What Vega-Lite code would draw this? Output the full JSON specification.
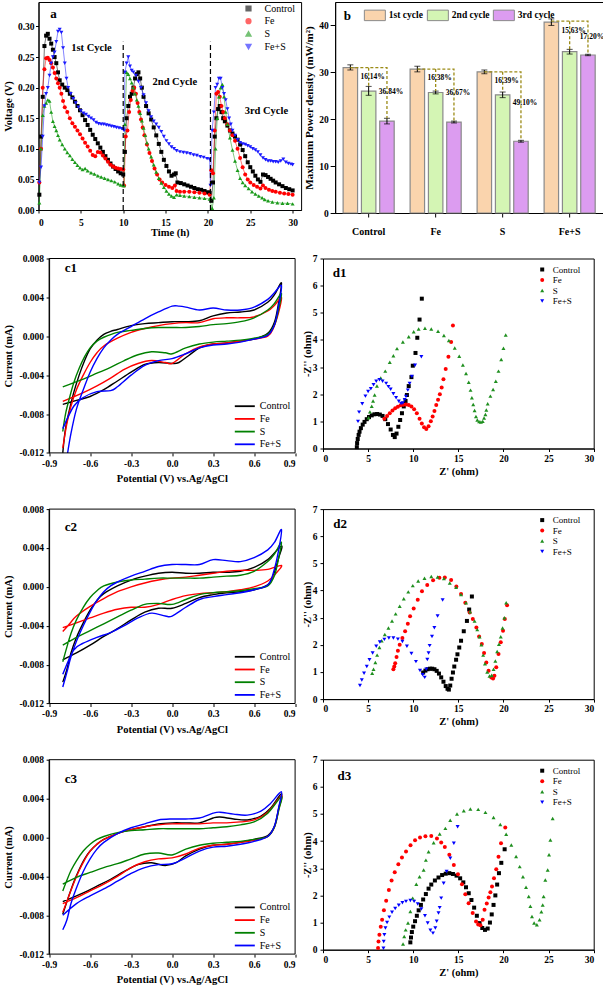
{
"$schema":"https://vega.github.io/schema/vega-lite/v6.json",
"background":"white",
"padding":{"left":2.5,"top":1,"right":2,"bottom":2},
"config":{
"view":{"stroke":"black","strokeWidth":1},
"axis":{"grid":false,"domainColor":"black","domainWidth":1,"tickColor":"black","tickWidth":1,"tickSize":3,"labelColor":"black","titleColor":"black","labelFont":"Liberation Serif","titleFont":"Liberation Serif","labelFontWeight":"bold","titleFontWeight":"bold","labelFontSize":9.5,"titleFontSize":10.5,"labelOverlap":false},
"legend":{"labelFont":"Liberation Serif","labelColor":"black","titleFont":"Liberation Serif","padding":0,"offset":0},
"text":{"font":"Liberation Serif","fontWeight":"bold","color":"black"}
},
"datasets":{
"ts":[
{"s":"Control","t":0.1,"v":0.025},{"s":"Control","t":0.3,"v":0.12},{"s":"Control","t":0.5,"v":0.185},{"s":"Control","t":0.7,"v":0.268},{"s":"Control","t":0.9,"v":0.285},{"s":"Control","t":1.1,"v":0.288},{"s":"Control","t":1.3,"v":0.28},{"s":"Control","t":1.5,"v":0.272},{"s":"Control","t":1.7,"v":0.262},{"s":"Control","t":1.9,"v":0.25},{"s":"Control","t":2.1,"v":0.24},{"s":"Control","t":2.3,"v":0.225},{"s":"Control","t":2.5,"v":0.212},{"s":"Control","t":2.8,"v":0.205},{"s":"Control","t":3.1,"v":0.2},{"s":"Control","t":3.4,"v":0.196},{"s":"Control","t":3.7,"v":0.19},{"s":"Control","t":4.0,"v":0.184},{"s":"Control","t":4.3,"v":0.177},{"s":"Control","t":4.6,"v":0.17},{"s":"Control","t":4.9,"v":0.163},{"s":"Control","t":5.2,"v":0.155},{"s":"Control","t":5.5,"v":0.147},{"s":"Control","t":5.8,"v":0.139},{"s":"Control","t":6.1,"v":0.131},{"s":"Control","t":6.4,"v":0.123},{"s":"Control","t":6.7,"v":0.116},{"s":"Control","t":7.0,"v":0.109},{"s":"Control","t":7.3,"v":0.102},{"s":"Control","t":7.6,"v":0.095},{"s":"Control","t":7.9,"v":0.088},{"s":"Control","t":8.2,"v":0.082},{"s":"Control","t":8.5,"v":0.076},{"s":"Control","t":8.8,"v":0.071},{"s":"Control","t":9.1,"v":0.067},{"s":"Control","t":9.4,"v":0.063},{"s":"Control","t":9.7,"v":0.06},{"s":"Control","t":10.0,"v":0.058},
{"s":"Control","t":10.2,"v":0.095},{"s":"Control","t":10.4,"v":0.15},{"s":"Control","t":10.6,"v":0.17},{"s":"Control","t":10.8,"v":0.185},{"s":"Control","t":11.0,"v":0.19},{"s":"Control","t":11.2,"v":0.2},{"s":"Control","t":11.4,"v":0.215},{"s":"Control","t":11.6,"v":0.222},{"s":"Control","t":11.8,"v":0.225},{"s":"Control","t":12.0,"v":0.215},{"s":"Control","t":12.2,"v":0.2},{"s":"Control","t":12.4,"v":0.185},{"s":"Control","t":12.7,"v":0.17},{"s":"Control","t":13.0,"v":0.158},{"s":"Control","t":13.3,"v":0.148},{"s":"Control","t":13.6,"v":0.135},{"s":"Control","t":13.9,"v":0.122},{"s":"Control","t":14.2,"v":0.108},{"s":"Control","t":14.5,"v":0.095},{"s":"Control","t":14.8,"v":0.082},{"s":"Control","t":15.1,"v":0.072},{"s":"Control","t":15.4,"v":0.063},{"s":"Control","t":15.7,"v":0.056},{"s":"Control","t":16.0,"v":0.058},{"s":"Control","t":16.2,"v":0.06},{"s":"Control","t":16.4,"v":0.045},{"s":"Control","t":16.8,"v":0.044},{"s":"Control","t":17.2,"v":0.042},{"s":"Control","t":17.6,"v":0.04},{"s":"Control","t":18.0,"v":0.038},{"s":"Control","t":18.4,"v":0.036},{"s":"Control","t":18.8,"v":0.034},{"s":"Control","t":19.2,"v":0.033},{"s":"Control","t":19.6,"v":0.031},{"s":"Control","t":20.0,"v":0.029},{"s":"Control","t":20.2,"v":0.028},
{"s":"Control","t":20.4,"v":0.015},{"s":"Control","t":20.6,"v":0.045},{"s":"Control","t":20.8,"v":0.12},{"s":"Control","t":21.0,"v":0.15},{"s":"Control","t":21.2,"v":0.165},{"s":"Control","t":21.4,"v":0.17},{"s":"Control","t":21.6,"v":0.16},{"s":"Control","t":21.8,"v":0.15},{"s":"Control","t":22.0,"v":0.145},{"s":"Control","t":22.3,"v":0.138},{"s":"Control","t":22.6,"v":0.13},{"s":"Control","t":22.9,"v":0.125},{"s":"Control","t":23.2,"v":0.12},{"s":"Control","t":23.5,"v":0.115},{"s":"Control","t":23.8,"v":0.107},{"s":"Control","t":24.1,"v":0.098},{"s":"Control","t":24.4,"v":0.088},{"s":"Control","t":24.7,"v":0.078},{"s":"Control","t":25.0,"v":0.07},{"s":"Control","t":25.3,"v":0.063},{"s":"Control","t":25.6,"v":0.056},{"s":"Control","t":25.9,"v":0.05},{"s":"Control","t":26.2,"v":0.046},{"s":"Control","t":26.5,"v":0.058},{"s":"Control","t":26.8,"v":0.057},{"s":"Control","t":27.1,"v":0.054},{"s":"Control","t":27.4,"v":0.051},{"s":"Control","t":27.7,"v":0.048},{"s":"Control","t":28.0,"v":0.045},{"s":"Control","t":28.4,"v":0.042},{"s":"Control","t":28.8,"v":0.039},{"s":"Control","t":29.2,"v":0.036},{"s":"Control","t":29.6,"v":0.034},{"s":"Control","t":30.0,"v":0.032},
{"s":"Fe","t":0.1,"v":0.045},{"s":"Fe","t":0.3,"v":0.1},{"s":"Fe","t":0.5,"v":0.2},{"s":"Fe","t":0.7,"v":0.23},{"s":"Fe","t":0.9,"v":0.248},{"s":"Fe","t":1.1,"v":0.249},{"s":"Fe","t":1.3,"v":0.245},{"s":"Fe","t":1.5,"v":0.24},{"s":"Fe","t":1.7,"v":0.233},{"s":"Fe","t":1.9,"v":0.224},{"s":"Fe","t":2.1,"v":0.215},{"s":"Fe","t":2.3,"v":0.207},{"s":"Fe","t":2.5,"v":0.2},{"s":"Fe","t":2.7,"v":0.19},{"s":"Fe","t":2.9,"v":0.178},{"s":"Fe","t":3.1,"v":0.168},{"s":"Fe","t":3.4,"v":0.16},{"s":"Fe","t":3.7,"v":0.15},{"s":"Fe","t":4.0,"v":0.142},{"s":"Fe","t":4.3,"v":0.136},{"s":"Fe","t":4.6,"v":0.13},{"s":"Fe","t":4.9,"v":0.124},{"s":"Fe","t":5.2,"v":0.117},{"s":"Fe","t":5.5,"v":0.11},{"s":"Fe","t":5.8,"v":0.104},{"s":"Fe","t":6.1,"v":0.097},{"s":"Fe","t":6.4,"v":0.09},{"s":"Fe","t":6.7,"v":0.088},{"s":"Fe","t":7.0,"v":0.095},{"s":"Fe","t":7.3,"v":0.094},{"s":"Fe","t":7.6,"v":0.089},{"s":"Fe","t":7.9,"v":0.084},{"s":"Fe","t":8.2,"v":0.079},{"s":"Fe","t":8.5,"v":0.074},{"s":"Fe","t":8.8,"v":0.071},{"s":"Fe","t":9.1,"v":0.069},{"s":"Fe","t":9.4,"v":0.068},{"s":"Fe","t":9.7,"v":0.067},{"s":"Fe","t":10.0,"v":0.066},
{"s":"Fe","t":10.1,"v":0.04},{"s":"Fe","t":10.3,"v":0.12},{"s":"Fe","t":10.5,"v":0.13},{"s":"Fe","t":10.7,"v":0.16},{"s":"Fe","t":10.9,"v":0.18},{"s":"Fe","t":11.1,"v":0.195},{"s":"Fe","t":11.3,"v":0.2},{"s":"Fe","t":11.5,"v":0.19},{"s":"Fe","t":11.7,"v":0.175},{"s":"Fe","t":11.9,"v":0.16},{"s":"Fe","t":12.1,"v":0.148},{"s":"Fe","t":12.3,"v":0.135},{"s":"Fe","t":12.5,"v":0.122},{"s":"Fe","t":12.8,"v":0.107},{"s":"Fe","t":13.1,"v":0.093},{"s":"Fe","t":13.4,"v":0.08},{"s":"Fe","t":13.7,"v":0.068},{"s":"Fe","t":14.0,"v":0.058},{"s":"Fe","t":14.3,"v":0.05},{"s":"Fe","t":14.6,"v":0.045},{"s":"Fe","t":15.0,"v":0.041},{"s":"Fe","t":15.4,"v":0.038},{"s":"Fe","t":15.8,"v":0.036},{"s":"Fe","t":16.1,"v":0.04},{"s":"Fe","t":16.3,"v":0.031},{"s":"Fe","t":16.7,"v":0.03},{"s":"Fe","t":17.2,"v":0.03},{"s":"Fe","t":17.8,"v":0.03},{"s":"Fe","t":18.4,"v":0.029},{"s":"Fe","t":19.0,"v":0.028},{"s":"Fe","t":19.6,"v":0.027},{"s":"Fe","t":20.2,"v":0.025},
{"s":"Fe","t":20.4,"v":0.065},{"s":"Fe","t":20.6,"v":0.06},{"s":"Fe","t":20.8,"v":0.13},{"s":"Fe","t":21.0,"v":0.19},{"s":"Fe","t":21.2,"v":0.193},{"s":"Fe","t":21.4,"v":0.185},{"s":"Fe","t":21.6,"v":0.17},{"s":"Fe","t":21.8,"v":0.16},{"s":"Fe","t":22.0,"v":0.15},{"s":"Fe","t":22.3,"v":0.14},{"s":"Fe","t":22.6,"v":0.13},{"s":"Fe","t":22.9,"v":0.122},{"s":"Fe","t":23.2,"v":0.113},{"s":"Fe","t":23.5,"v":0.1},{"s":"Fe","t":23.8,"v":0.085},{"s":"Fe","t":24.1,"v":0.07},{"s":"Fe","t":24.4,"v":0.058},{"s":"Fe","t":24.7,"v":0.05},{"s":"Fe","t":25.0,"v":0.045},{"s":"Fe","t":25.4,"v":0.041},{"s":"Fe","t":25.8,"v":0.038},{"s":"Fe","t":26.2,"v":0.035},{"s":"Fe","t":26.5,"v":0.04},{"s":"Fe","t":26.8,"v":0.036},{"s":"Fe","t":27.2,"v":0.033},{"s":"Fe","t":27.6,"v":0.031},{"s":"Fe","t":28.0,"v":0.03},{"s":"Fe","t":28.5,"v":0.028},{"s":"Fe","t":29.0,"v":0.027},{"s":"Fe","t":29.5,"v":0.026},{"s":"Fe","t":30.0,"v":0.025},
{"s":"S","t":0.1,"v":0.012},{"s":"S","t":0.3,"v":0.1},{"s":"S","t":0.5,"v":0.155},{"s":"S","t":0.7,"v":0.17},{"s":"S","t":0.9,"v":0.175},{"s":"S","t":1.1,"v":0.18},{"s":"S","t":1.3,"v":0.178},{"s":"S","t":1.5,"v":0.16},{"s":"S","t":1.7,"v":0.145},{"s":"S","t":1.9,"v":0.137},{"s":"S","t":2.1,"v":0.13},{"s":"S","t":2.3,"v":0.122},{"s":"S","t":2.5,"v":0.115},{"s":"S","t":2.8,"v":0.107},{"s":"S","t":3.1,"v":0.1},{"s":"S","t":3.4,"v":0.094},{"s":"S","t":3.7,"v":0.089},{"s":"S","t":4.0,"v":0.083},{"s":"S","t":4.3,"v":0.078},{"s":"S","t":4.6,"v":0.073},{"s":"S","t":4.9,"v":0.069},{"s":"S","t":5.2,"v":0.066},{"s":"S","t":5.5,"v":0.068},{"s":"S","t":5.8,"v":0.064},{"s":"S","t":6.2,"v":0.061},{"s":"S","t":6.6,"v":0.059},{"s":"S","t":7.0,"v":0.056},{"s":"S","t":7.4,"v":0.054},{"s":"S","t":7.8,"v":0.052},{"s":"S","t":8.2,"v":0.05},{"s":"S","t":8.6,"v":0.048},{"s":"S","t":9.0,"v":0.046},{"s":"S","t":9.4,"v":0.043},{"s":"S","t":9.7,"v":0.041},{"s":"S","t":10.0,"v":0.04},
{"s":"S","t":10.1,"v":0.04},{"s":"S","t":10.2,"v":0.14},{"s":"S","t":10.4,"v":0.225},{"s":"S","t":10.6,"v":0.222},{"s":"S","t":10.8,"v":0.215},{"s":"S","t":11.0,"v":0.208},{"s":"S","t":11.2,"v":0.2},{"s":"S","t":11.4,"v":0.19},{"s":"S","t":11.6,"v":0.18},{"s":"S","t":11.8,"v":0.17},{"s":"S","t":12.0,"v":0.158},{"s":"S","t":12.2,"v":0.146},{"s":"S","t":12.4,"v":0.134},{"s":"S","t":12.6,"v":0.122},{"s":"S","t":12.8,"v":0.11},{"s":"S","t":13.0,"v":0.1},{"s":"S","t":13.3,"v":0.087},{"s":"S","t":13.6,"v":0.074},{"s":"S","t":13.9,"v":0.062},{"s":"S","t":14.2,"v":0.052},{"s":"S","t":14.5,"v":0.044},{"s":"S","t":14.8,"v":0.037},{"s":"S","t":15.1,"v":0.031},{"s":"S","t":15.4,"v":0.026},{"s":"S","t":15.7,"v":0.023},{"s":"S","t":16.0,"v":0.021},{"s":"S","t":16.3,"v":0.025},{"s":"S","t":16.7,"v":0.024},{"s":"S","t":17.2,"v":0.023},{"s":"S","t":17.8,"v":0.022},{"s":"S","t":18.4,"v":0.021},{"s":"S","t":19.0,"v":0.02},{"s":"S","t":19.6,"v":0.019},{"s":"S","t":20.2,"v":0.018},
{"s":"S","t":20.5,"v":0.003},{"s":"S","t":20.7,"v":0.02},{"s":"S","t":20.9,"v":0.1},{"s":"S","t":21.1,"v":0.15},{"s":"S","t":21.3,"v":0.185},{"s":"S","t":21.5,"v":0.2},{"s":"S","t":21.7,"v":0.205},{"s":"S","t":21.9,"v":0.185},{"s":"S","t":22.1,"v":0.16},{"s":"S","t":22.3,"v":0.14},{"s":"S","t":22.6,"v":0.118},{"s":"S","t":22.9,"v":0.098},{"s":"S","t":23.2,"v":0.08},{"s":"S","t":23.5,"v":0.065},{"s":"S","t":23.8,"v":0.052},{"s":"S","t":24.1,"v":0.045},{"s":"S","t":24.4,"v":0.04},{"s":"S","t":24.8,"v":0.035},{"s":"S","t":25.2,"v":0.03},{"s":"S","t":25.6,"v":0.026},{"s":"S","t":26.0,"v":0.023},{"s":"S","t":26.4,"v":0.02},{"s":"S","t":26.7,"v":0.017},{"s":"S","t":27.1,"v":0.015},{"s":"S","t":27.6,"v":0.013},{"s":"S","t":28.2,"v":0.012},{"s":"S","t":28.8,"v":0.011},{"s":"S","t":29.4,"v":0.011},{"s":"S","t":30.0,"v":0.01},
{"s":"Fe+S","t":0.1,"v":0.045},{"s":"Fe+S","t":0.3,"v":0.07},{"s":"Fe+S","t":0.5,"v":0.12},{"s":"Fe+S","t":0.7,"v":0.17},{"s":"Fe+S","t":0.9,"v":0.19},{"s":"Fe+S","t":1.1,"v":0.2},{"s":"Fe+S","t":1.3,"v":0.22},{"s":"Fe+S","t":1.5,"v":0.24},{"s":"Fe+S","t":1.7,"v":0.25},{"s":"Fe+S","t":1.9,"v":0.258},{"s":"Fe+S","t":2.1,"v":0.275},{"s":"Fe+S","t":2.3,"v":0.292},{"s":"Fe+S","t":2.5,"v":0.295},{"s":"Fe+S","t":2.7,"v":0.29},{"s":"Fe+S","t":2.9,"v":0.265},{"s":"Fe+S","t":3.1,"v":0.24},{"s":"Fe+S","t":3.3,"v":0.215},{"s":"Fe+S","t":3.5,"v":0.2},{"s":"Fe+S","t":3.8,"v":0.19},{"s":"Fe+S","t":4.1,"v":0.182},{"s":"Fe+S","t":4.4,"v":0.175},{"s":"Fe+S","t":4.7,"v":0.168},{"s":"Fe+S","t":5.0,"v":0.162},{"s":"Fe+S","t":5.3,"v":0.158},{"s":"Fe+S","t":5.6,"v":0.156},{"s":"Fe+S","t":5.9,"v":0.153},{"s":"Fe+S","t":6.2,"v":0.15},{"s":"Fe+S","t":6.5,"v":0.147},{"s":"Fe+S","t":6.8,"v":0.143},{"s":"Fe+S","t":7.1,"v":0.141},{"s":"Fe+S","t":7.4,"v":0.14},{"s":"Fe+S","t":7.7,"v":0.14},{"s":"Fe+S","t":8.0,"v":0.139},{"s":"Fe+S","t":8.3,"v":0.138},{"s":"Fe+S","t":8.6,"v":0.137},{"s":"Fe+S","t":8.9,"v":0.136},{"s":"Fe+S","t":9.2,"v":0.135},{"s":"Fe+S","t":9.5,"v":0.134},{"s":"Fe+S","t":9.8,"v":0.133},{"s":"Fe+S","t":10.0,"v":0.132},
{"s":"Fe+S","t":10.1,"v":0.13},{"s":"Fe+S","t":10.2,"v":0.225},{"s":"Fe+S","t":10.4,"v":0.24},{"s":"Fe+S","t":10.6,"v":0.25},{"s":"Fe+S","t":10.8,"v":0.235},{"s":"Fe+S","t":11.0,"v":0.228},{"s":"Fe+S","t":11.2,"v":0.225},{"s":"Fe+S","t":11.5,"v":0.22},{"s":"Fe+S","t":11.8,"v":0.21},{"s":"Fe+S","t":12.1,"v":0.2},{"s":"Fe+S","t":12.4,"v":0.188},{"s":"Fe+S","t":12.7,"v":0.175},{"s":"Fe+S","t":13.0,"v":0.162},{"s":"Fe+S","t":13.3,"v":0.152},{"s":"Fe+S","t":13.6,"v":0.145},{"s":"Fe+S","t":13.9,"v":0.14},{"s":"Fe+S","t":14.2,"v":0.135},{"s":"Fe+S","t":14.5,"v":0.128},{"s":"Fe+S","t":14.8,"v":0.12},{"s":"Fe+S","t":15.1,"v":0.113},{"s":"Fe+S","t":15.4,"v":0.108},{"s":"Fe+S","t":15.7,"v":0.103},{"s":"Fe+S","t":16.0,"v":0.1},{"s":"Fe+S","t":16.3,"v":0.097},{"s":"Fe+S","t":16.7,"v":0.095},{"s":"Fe+S","t":17.1,"v":0.094},{"s":"Fe+S","t":17.5,"v":0.093},{"s":"Fe+S","t":17.9,"v":0.092},{"s":"Fe+S","t":18.3,"v":0.09},{"s":"Fe+S","t":18.7,"v":0.089},{"s":"Fe+S","t":19.1,"v":0.087},{"s":"Fe+S","t":19.5,"v":0.086},{"s":"Fe+S","t":19.9,"v":0.084},{"s":"Fe+S","t":20.2,"v":0.083},
{"s":"Fe+S","t":20.3,"v":0.04},{"s":"Fe+S","t":20.5,"v":0.13},{"s":"Fe+S","t":20.7,"v":0.16},{"s":"Fe+S","t":20.9,"v":0.2},{"s":"Fe+S","t":21.1,"v":0.205},{"s":"Fe+S","t":21.3,"v":0.215},{"s":"Fe+S","t":21.5,"v":0.215},{"s":"Fe+S","t":21.7,"v":0.2},{"s":"Fe+S","t":21.9,"v":0.19},{"s":"Fe+S","t":22.1,"v":0.18},{"s":"Fe+S","t":22.3,"v":0.165},{"s":"Fe+S","t":22.5,"v":0.15},{"s":"Fe+S","t":22.7,"v":0.14},{"s":"Fe+S","t":22.9,"v":0.13},{"s":"Fe+S","t":23.2,"v":0.122},{"s":"Fe+S","t":23.5,"v":0.115},{"s":"Fe+S","t":23.8,"v":0.11},{"s":"Fe+S","t":24.1,"v":0.108},{"s":"Fe+S","t":24.4,"v":0.107},{"s":"Fe+S","t":24.7,"v":0.105},{"s":"Fe+S","t":25.0,"v":0.103},{"s":"Fe+S","t":25.3,"v":0.1},{"s":"Fe+S","t":25.6,"v":0.098},{"s":"Fe+S","t":25.9,"v":0.095},{"s":"Fe+S","t":26.2,"v":0.09},{"s":"Fe+S","t":26.5,"v":0.085},{"s":"Fe+S","t":26.8,"v":0.082},{"s":"Fe+S","t":27.1,"v":0.08},{"s":"Fe+S","t":27.4,"v":0.08},{"s":"Fe+S","t":27.7,"v":0.079},{"s":"Fe+S","t":28.0,"v":0.079},{"s":"Fe+S","t":28.3,"v":0.078},{"s":"Fe+S","t":28.6,"v":0.08},{"s":"Fe+S","t":28.9,"v":0.083},{"s":"Fe+S","t":29.2,"v":0.078},{"s":"Fe+S","t":29.5,"v":0.076},{"s":"Fe+S","t":29.8,"v":0.075},{"s":"Fe+S","t":30.0,"v":0.074}
],
"bars":[
{"g":"Control","c":"1st cycle","m":31.0,"lo":30.5,"hi":31.6},{"g":"Control","c":"2nd cycle","m":26.0,"lo":25.1,"hi":27.0},{"g":"Control","c":"3rd cycle","m":19.6,"lo":19.0,"hi":20.2},
{"g":"Fe","c":"1st cycle","m":30.7,"lo":30.1,"hi":31.3},{"g":"Fe","c":"2nd cycle","m":25.7,"lo":25.4,"hi":26.0},{"g":"Fe","c":"3rd cycle","m":19.4,"lo":19.2,"hi":19.6},
{"g":"S","c":"1st cycle","m":30.1,"lo":29.7,"hi":30.5},{"g":"S","c":"2nd cycle","m":25.2,"lo":24.6,"hi":25.8},{"g":"S","c":"3rd cycle","m":15.3,"lo":15.1,"hi":15.5},
{"g":"Fe+S","c":"1st cycle","m":40.7,"lo":40.0,"hi":41.4},{"g":"Fe+S","c":"2nd cycle","m":34.4,"lo":33.9,"hi":34.9},{"g":"Fe+S","c":"3rd cycle","m":33.7,"lo":33.55,"hi":33.85}
],
"dash":[
{"g":"Control","c":"1st cycle","y":31.0,"k":"C1","o":1},{"g":"Control","c":"3rd cycle","y":31.0,"k":"C1","o":2},{"g":"Control","c":"3rd cycle","y":20.2,"k":"C1","o":3},{"g":"Control","c":"2nd cycle","y":31.0,"k":"C2","o":1},{"g":"Control","c":"2nd cycle","y":27.0,"k":"C2","o":2},
{"g":"Fe","c":"1st cycle","y":30.7,"k":"F1","o":1},{"g":"Fe","c":"3rd cycle","y":30.7,"k":"F1","o":2},{"g":"Fe","c":"3rd cycle","y":19.6,"k":"F1","o":3},{"g":"Fe","c":"2nd cycle","y":30.7,"k":"F2","o":1},{"g":"Fe","c":"2nd cycle","y":26.0,"k":"F2","o":2},
{"g":"S","c":"1st cycle","y":30.1,"k":"S1","o":1},{"g":"S","c":"3rd cycle","y":30.1,"k":"S1","o":2},{"g":"S","c":"3rd cycle","y":15.5,"k":"S1","o":3},{"g":"S","c":"2nd cycle","y":30.1,"k":"S2","o":1},{"g":"S","c":"2nd cycle","y":25.8,"k":"S2","o":2},
{"g":"Fe+S","c":"1st cycle","y":40.9,"k":"X1","o":1},{"g":"Fe+S","c":"3rd cycle","y":40.9,"k":"X1","o":2},{"g":"Fe+S","c":"3rd cycle","y":33.85,"k":"X1","o":3},{"g":"Fe+S","c":"2nd cycle","y":40.9,"k":"X2","o":1},{"g":"Fe+S","c":"2nd cycle","y":34.9,"k":"X2","o":2}
],
"pct":[
{"g":"Control","c":"2nd cycle","y":29.1,"txt":"16.14%"},{"g":"Control","c":"3rd cycle","y":25.75,"txt":"36.84%"},
{"g":"Fe","c":"2nd cycle","y":28.7,"txt":"16.38%"},{"g":"Fe","c":"3rd cycle","y":25.5,"txt":"36.67%"},
{"g":"S","c":"2nd cycle","y":28.2,"txt":"16.39%"},{"g":"S","c":"3rd cycle","y":23.5,"txt":"49.10%"},
{"g":"Fe+S","c":"2nd cycle","y":38.8,"txt":"15.63%"},{"g":"Fe+S","c":"3rd cycle","y":37.6,"txt":"17.20%"}
],
"cv":[
{"p":"c1","s":"Control","v":-0.8,"i":-0.012},{"p":"c1","s":"Control","v":-0.78,"i":-0.0095},{"p":"c1","s":"Control","v":-0.75,"i":-0.0075},{"p":"c1","s":"Control","v":-0.72,"i":-0.0058},{"p":"c1","s":"Control","v":-0.68,"i":-0.004},{"p":"c1","s":"Control","v":-0.64,"i":-0.0025},{"p":"c1","s":"Control","v":-0.6,"i":-0.0013},{"p":"c1","s":"Control","v":-0.55,"i":-0.0004},{"p":"c1","s":"Control","v":-0.5,"i":0.0002},{"p":"c1","s":"Control","v":-0.45,"i":0.0005},{"p":"c1","s":"Control","v":-0.4,"i":0.0007},{"p":"c1","s":"Control","v":-0.3,"i":0.0011},{"p":"c1","s":"Control","v":-0.2,"i":0.0013},{"p":"c1","s":"Control","v":-0.1,"i":0.0014},{"p":"c1","s":"Control","v":0,"i":0.0015},{"p":"c1","s":"Control","v":0.1,"i":0.0015},{"p":"c1","s":"Control","v":0.2,"i":0.0016},{"p":"c1","s":"Control","v":0.3,"i":0.0021},{"p":"c1","s":"Control","v":0.4,"i":0.0024},{"p":"c1","s":"Control","v":0.5,"i":0.0025},{"p":"c1","s":"Control","v":0.6,"i":0.0027},{"p":"c1","s":"Control","v":0.7,"i":0.0035},{"p":"c1","s":"Control","v":0.75,"i":0.0043},{"p":"c1","s":"Control","v":0.8,"i":0.0055},{"p":"c1","s":"Control","v":0.78,"i":0.0035},{"p":"c1","s":"Control","v":0.75,"i":0.0015},{"p":"c1","s":"Control","v":0.7,"i":0.0003},{"p":"c1","s":"Control","v":0.6,"i":-0.0003},{"p":"c1","s":"Control","v":0.5,"i":-0.0005},{"p":"c1","s":"Control","v":0.4,"i":-0.0007},{"p":"c1","s":"Control","v":0.3,"i":-0.0008},{"p":"c1","s":"Control","v":0.2,"i":-0.0012},{"p":"c1","s":"Control","v":0.12,"i":-0.002},{"p":"c1","s":"Control","v":0.05,"i":-0.0027},{"p":"c1","s":"Control","v":0,"i":-0.0028},{"p":"c1","s":"Control","v":-0.1,"i":-0.0027},{"p":"c1","s":"Control","v":-0.2,"i":-0.0029},{"p":"c1","s":"Control","v":-0.3,"i":-0.0037},{"p":"c1","s":"Control","v":-0.4,"i":-0.0046},{"p":"c1","s":"Control","v":-0.5,"i":-0.0055},{"p":"c1","s":"Control","v":-0.6,"i":-0.0062},{"p":"c1","s":"Control","v":-0.7,"i":-0.0066},{"p":"c1","s":"Control","v":-0.8,"i":-0.007},
{"p":"c1","s":"Fe","v":-0.8,"i":-0.0115},{"p":"c1","s":"Fe","v":-0.77,"i":-0.009},{"p":"c1","s":"Fe","v":-0.74,"i":-0.0072},{"p":"c1","s":"Fe","v":-0.7,"i":-0.0055},{"p":"c1","s":"Fe","v":-0.65,"i":-0.004},{"p":"c1","s":"Fe","v":-0.6,"i":-0.0027},{"p":"c1","s":"Fe","v":-0.55,"i":-0.0017},{"p":"c1","s":"Fe","v":-0.5,"i":-0.001},{"p":"c1","s":"Fe","v":-0.4,"i":-0.0002},{"p":"c1","s":"Fe","v":-0.3,"i":0.0004},{"p":"c1","s":"Fe","v":-0.2,"i":0.0008},{"p":"c1","s":"Fe","v":-0.1,"i":0.0011},{"p":"c1","s":"Fe","v":0,"i":0.0013},{"p":"c1","s":"Fe","v":0.1,"i":0.0014},{"p":"c1","s":"Fe","v":0.2,"i":0.0014},{"p":"c1","s":"Fe","v":0.3,"i":0.0018},{"p":"c1","s":"Fe","v":0.4,"i":0.0019},{"p":"c1","s":"Fe","v":0.5,"i":0.0019},{"p":"c1","s":"Fe","v":0.6,"i":0.002},{"p":"c1","s":"Fe","v":0.7,"i":0.0026},{"p":"c1","s":"Fe","v":0.75,"i":0.0032},{"p":"c1","s":"Fe","v":0.8,"i":0.004},{"p":"c1","s":"Fe","v":0.78,"i":0.0025},{"p":"c1","s":"Fe","v":0.74,"i":0.0008},{"p":"c1","s":"Fe","v":0.7,"i":0},{"p":"c1","s":"Fe","v":0.6,"i":-0.0003},{"p":"c1","s":"Fe","v":0.5,"i":-0.0005},{"p":"c1","s":"Fe","v":0.4,"i":-0.0007},{"p":"c1","s":"Fe","v":0.3,"i":-0.0008},{"p":"c1","s":"Fe","v":0.2,"i":-0.0011},{"p":"c1","s":"Fe","v":0.1,"i":-0.0018},{"p":"c1","s":"Fe","v":0,"i":-0.0028},{"p":"c1","s":"Fe","v":-0.05,"i":-0.0027},{"p":"c1","s":"Fe","v":-0.15,"i":-0.0025},{"p":"c1","s":"Fe","v":-0.25,"i":-0.0028},{"p":"c1","s":"Fe","v":-0.35,"i":-0.0034},{"p":"c1","s":"Fe","v":-0.45,"i":-0.0043},{"p":"c1","s":"Fe","v":-0.55,"i":-0.0051},{"p":"c1","s":"Fe","v":-0.65,"i":-0.0058},{"p":"c1","s":"Fe","v":-0.8,"i":-0.0067},
{"p":"c1","s":"S","v":-0.8,"i":-0.0098},{"p":"c1","s":"S","v":-0.78,"i":-0.008},{"p":"c1","s":"S","v":-0.75,"i":-0.0063},{"p":"c1","s":"S","v":-0.72,"i":-0.0048},{"p":"c1","s":"S","v":-0.68,"i":-0.0033},{"p":"c1","s":"S","v":-0.64,"i":-0.0021},{"p":"c1","s":"S","v":-0.6,"i":-0.0012},{"p":"c1","s":"S","v":-0.55,"i":-0.0005},{"p":"c1","s":"S","v":-0.5,"i":-0.0001},{"p":"c1","s":"S","v":-0.4,"i":0.0004},{"p":"c1","s":"S","v":-0.3,"i":0.0006},{"p":"c1","s":"S","v":-0.2,"i":0.0008},{"p":"c1","s":"S","v":-0.1,"i":0.0009},{"p":"c1","s":"S","v":0,"i":0.0009},{"p":"c1","s":"S","v":0.1,"i":0.0009},{"p":"c1","s":"S","v":0.2,"i":0.001},{"p":"c1","s":"S","v":0.3,"i":0.0012},{"p":"c1","s":"S","v":0.4,"i":0.0013},{"p":"c1","s":"S","v":0.5,"i":0.0015},{"p":"c1","s":"S","v":0.6,"i":0.0019},{"p":"c1","s":"S","v":0.7,"i":0.0027},{"p":"c1","s":"S","v":0.75,"i":0.0034},{"p":"c1","s":"S","v":0.8,"i":0.0044},{"p":"c1","s":"S","v":0.78,"i":0.0028},{"p":"c1","s":"S","v":0.75,"i":0.0012},{"p":"c1","s":"S","v":0.7,"i":0.0002},{"p":"c1","s":"S","v":0.6,"i":-0.0002},{"p":"c1","s":"S","v":0.5,"i":-0.0004},{"p":"c1","s":"S","v":0.4,"i":-0.0005},{"p":"c1","s":"S","v":0.3,"i":-0.0006},{"p":"c1","s":"S","v":0.2,"i":-0.0008},{"p":"c1","s":"S","v":0.1,"i":-0.0012},{"p":"c1","s":"S","v":0,"i":-0.0018},{"p":"c1","s":"S","v":-0.05,"i":-0.0017},{"p":"c1","s":"S","v":-0.15,"i":-0.0016},{"p":"c1","s":"S","v":-0.25,"i":-0.0019},{"p":"c1","s":"S","v":-0.35,"i":-0.0025},{"p":"c1","s":"S","v":-0.45,"i":-0.0032},{"p":"c1","s":"S","v":-0.55,"i":-0.0038},{"p":"c1","s":"S","v":-0.65,"i":-0.0044},{"p":"c1","s":"S","v":-0.8,"i":-0.0052},
{"p":"c1","s":"Fe+S","v":-0.77,"i":-0.0125},{"p":"c1","s":"Fe+S","v":-0.74,"i":-0.01},{"p":"c1","s":"Fe+S","v":-0.7,"i":-0.0075},{"p":"c1","s":"Fe+S","v":-0.65,"i":-0.0055},{"p":"c1","s":"Fe+S","v":-0.6,"i":-0.0037},{"p":"c1","s":"Fe+S","v":-0.55,"i":-0.0023},{"p":"c1","s":"Fe+S","v":-0.5,"i":-0.0012},{"p":"c1","s":"Fe+S","v":-0.45,"i":-0.0004},{"p":"c1","s":"Fe+S","v":-0.4,"i":0.0002},{"p":"c1","s":"Fe+S","v":-0.3,"i":0.001},{"p":"c1","s":"Fe+S","v":-0.2,"i":0.0018},{"p":"c1","s":"Fe+S","v":-0.1,"i":0.0025},{"p":"c1","s":"Fe+S","v":0,"i":0.0031},{"p":"c1","s":"Fe+S","v":0.05,"i":0.0031},{"p":"c1","s":"Fe+S","v":0.1,"i":0.003},{"p":"c1","s":"Fe+S","v":0.2,"i":0.0027},{"p":"c1","s":"Fe+S","v":0.3,"i":0.0029},{"p":"c1","s":"Fe+S","v":0.4,"i":0.0027},{"p":"c1","s":"Fe+S","v":0.5,"i":0.0027},{"p":"c1","s":"Fe+S","v":0.6,"i":0.003},{"p":"c1","s":"Fe+S","v":0.7,"i":0.0038},{"p":"c1","s":"Fe+S","v":0.75,"i":0.0045},{"p":"c1","s":"Fe+S","v":0.8,"i":0.0052},{"p":"c1","s":"Fe+S","v":0.78,"i":0.0032},{"p":"c1","s":"Fe+S","v":0.75,"i":0.0012},{"p":"c1","s":"Fe+S","v":0.7,"i":0.0001},{"p":"c1","s":"Fe+S","v":0.6,"i":-0.0003},{"p":"c1","s":"Fe+S","v":0.5,"i":-0.0006},{"p":"c1","s":"Fe+S","v":0.4,"i":-0.0008},{"p":"c1","s":"Fe+S","v":0.3,"i":-0.0009},{"p":"c1","s":"Fe+S","v":0.2,"i":-0.0012},{"p":"c1","s":"Fe+S","v":0.1,"i":-0.0018},{"p":"c1","s":"Fe+S","v":0,"i":-0.0023},{"p":"c1","s":"Fe+S","v":-0.1,"i":-0.0025},{"p":"c1","s":"Fe+S","v":-0.2,"i":-0.003},{"p":"c1","s":"Fe+S","v":-0.3,"i":-0.004},{"p":"c1","s":"Fe+S","v":-0.4,"i":-0.0052},{"p":"c1","s":"Fe+S","v":-0.45,"i":-0.0056},{"p":"c1","s":"Fe+S","v":-0.55,"i":-0.0057},{"p":"c1","s":"Fe+S","v":-0.65,"i":-0.0063},{"p":"c1","s":"Fe+S","v":-0.72,"i":-0.0072},{"p":"c1","s":"Fe+S","v":-0.8,"i":-0.0095},
{"p":"c2","s":"Control","v":-0.8,"i":-0.0098},{"p":"c2","s":"Control","v":-0.77,"i":-0.0085},{"p":"c2","s":"Control","v":-0.74,"i":-0.0068},{"p":"c2","s":"Control","v":-0.7,"i":-0.0052},{"p":"c2","s":"Control","v":-0.65,"i":-0.0037},{"p":"c2","s":"Control","v":-0.6,"i":-0.0024},{"p":"c2","s":"Control","v":-0.55,"i":-0.0014},{"p":"c2","s":"Control","v":-0.5,"i":-0.0007},{"p":"c2","s":"Control","v":-0.4,"i":0.0001},{"p":"c2","s":"Control","v":-0.3,"i":0.0007},{"p":"c2","s":"Control","v":-0.2,"i":0.0011},{"p":"c2","s":"Control","v":-0.1,"i":0.0014},{"p":"c2","s":"Control","v":0,"i":0.0015},{"p":"c2","s":"Control","v":0.1,"i":0.0014},{"p":"c2","s":"Control","v":0.2,"i":0.0014},{"p":"c2","s":"Control","v":0.3,"i":0.0015},{"p":"c2","s":"Control","v":0.4,"i":0.0015},{"p":"c2","s":"Control","v":0.5,"i":0.0016},{"p":"c2","s":"Control","v":0.6,"i":0.002},{"p":"c2","s":"Control","v":0.7,"i":0.0028},{"p":"c2","s":"Control","v":0.8,"i":0.0042},{"p":"c2","s":"Control","v":0.78,"i":0.003},{"p":"c2","s":"Control","v":0.74,"i":0.0012},{"p":"c2","s":"Control","v":0.7,"i":0.0002},{"p":"c2","s":"Control","v":0.6,"i":-0.0003},{"p":"c2","s":"Control","v":0.5,"i":-0.0005},{"p":"c2","s":"Control","v":0.4,"i":-0.0006},{"p":"c2","s":"Control","v":0.3,"i":-0.0008},{"p":"c2","s":"Control","v":0.2,"i":-0.0011},{"p":"c2","s":"Control","v":0.1,"i":-0.0017},{"p":"c2","s":"Control","v":0,"i":-0.0022},{"p":"c2","s":"Control","v":-0.1,"i":-0.0022},{"p":"c2","s":"Control","v":-0.2,"i":-0.0026},{"p":"c2","s":"Control","v":-0.3,"i":-0.0034},{"p":"c2","s":"Control","v":-0.4,"i":-0.0043},{"p":"c2","s":"Control","v":-0.5,"i":-0.0051},{"p":"c2","s":"Control","v":-0.6,"i":-0.006},{"p":"c2","s":"Control","v":-0.7,"i":-0.0068},{"p":"c2","s":"Control","v":-0.8,"i":-0.0075},
{"p":"c2","s":"Fe","v":-0.8,"i":-0.0046},{"p":"c2","s":"Fe","v":-0.75,"i":-0.0038},{"p":"c2","s":"Fe","v":-0.7,"i":-0.003},{"p":"c2","s":"Fe","v":-0.6,"i":-0.002},{"p":"c2","s":"Fe","v":-0.5,"i":-0.0012},{"p":"c2","s":"Fe","v":-0.4,"i":-0.0005},{"p":"c2","s":"Fe","v":-0.3,"i":0},{"p":"c2","s":"Fe","v":-0.2,"i":0.0004},{"p":"c2","s":"Fe","v":-0.1,"i":0.0007},{"p":"c2","s":"Fe","v":0,"i":0.0009},{"p":"c2","s":"Fe","v":0.1,"i":0.001},{"p":"c2","s":"Fe","v":0.2,"i":0.0012},{"p":"c2","s":"Fe","v":0.3,"i":0.0014},{"p":"c2","s":"Fe","v":0.4,"i":0.0016},{"p":"c2","s":"Fe","v":0.5,"i":0.0017},{"p":"c2","s":"Fe","v":0.6,"i":0.0017},{"p":"c2","s":"Fe","v":0.7,"i":0.0018},{"p":"c2","s":"Fe","v":0.8,"i":0.0022},{"p":"c2","s":"Fe","v":0.76,"i":0.0014},{"p":"c2","s":"Fe","v":0.7,"i":0.0006},{"p":"c2","s":"Fe","v":0.6,"i":0},{"p":"c2","s":"Fe","v":0.5,"i":-0.0003},{"p":"c2","s":"Fe","v":0.4,"i":-0.0005},{"p":"c2","s":"Fe","v":0.3,"i":-0.0006},{"p":"c2","s":"Fe","v":0.2,"i":-0.0007},{"p":"c2","s":"Fe","v":0.1,"i":-0.0009},{"p":"c2","s":"Fe","v":0,"i":-0.0013},{"p":"c2","s":"Fe","v":-0.1,"i":-0.0018},{"p":"c2","s":"Fe","v":-0.2,"i":-0.0021},{"p":"c2","s":"Fe","v":-0.3,"i":-0.0021},{"p":"c2","s":"Fe","v":-0.4,"i":-0.0023},{"p":"c2","s":"Fe","v":-0.5,"i":-0.0027},{"p":"c2","s":"Fe","v":-0.6,"i":-0.0032},{"p":"c2","s":"Fe","v":-0.7,"i":-0.0037},{"p":"c2","s":"Fe","v":-0.8,"i":-0.0042},
{"p":"c2","s":"S","v":-0.8,"i":-0.0077},{"p":"c2","s":"S","v":-0.77,"i":-0.0062},{"p":"c2","s":"S","v":-0.74,"i":-0.0048},{"p":"c2","s":"S","v":-0.7,"i":-0.0034},{"p":"c2","s":"S","v":-0.65,"i":-0.0021},{"p":"c2","s":"S","v":-0.6,"i":-0.0011},{"p":"c2","s":"S","v":-0.55,"i":-0.0004},{"p":"c2","s":"S","v":-0.5,"i":0.0001},{"p":"c2","s":"S","v":-0.4,"i":0.0005},{"p":"c2","s":"S","v":-0.3,"i":0.0007},{"p":"c2","s":"S","v":-0.2,"i":0.0008},{"p":"c2","s":"S","v":-0.1,"i":0.0009},{"p":"c2","s":"S","v":0,"i":0.0009},{"p":"c2","s":"S","v":0.1,"i":0.0009},{"p":"c2","s":"S","v":0.2,"i":0.0009},{"p":"c2","s":"S","v":0.3,"i":0.001},{"p":"c2","s":"S","v":0.4,"i":0.0011},{"p":"c2","s":"S","v":0.5,"i":0.0012},{"p":"c2","s":"S","v":0.6,"i":0.0016},{"p":"c2","s":"S","v":0.7,"i":0.0026},{"p":"c2","s":"S","v":0.75,"i":0.0034},{"p":"c2","s":"S","v":0.8,"i":0.0046},{"p":"c2","s":"S","v":0.78,"i":0.003},{"p":"c2","s":"S","v":0.75,"i":0.0012},{"p":"c2","s":"S","v":0.7,"i":0.0001},{"p":"c2","s":"S","v":0.6,"i":-0.0002},{"p":"c2","s":"S","v":0.5,"i":-0.0004},{"p":"c2","s":"S","v":0.4,"i":-0.0005},{"p":"c2","s":"S","v":0.3,"i":-0.0006},{"p":"c2","s":"S","v":0.2,"i":-0.0008},{"p":"c2","s":"S","v":0.1,"i":-0.0013},{"p":"c2","s":"S","v":0,"i":-0.0018},{"p":"c2","s":"S","v":-0.1,"i":-0.0017},{"p":"c2","s":"S","v":-0.2,"i":-0.0018},{"p":"c2","s":"S","v":-0.3,"i":-0.0024},{"p":"c2","s":"S","v":-0.4,"i":-0.0031},{"p":"c2","s":"S","v":-0.5,"i":-0.0038},{"p":"c2","s":"S","v":-0.6,"i":-0.0045},{"p":"c2","s":"S","v":-0.7,"i":-0.0052},{"p":"c2","s":"S","v":-0.8,"i":-0.006},
{"p":"c2","s":"Fe+S","v":-0.8,"i":-0.0103},{"p":"c2","s":"Fe+S","v":-0.77,"i":-0.0088},{"p":"c2","s":"Fe+S","v":-0.74,"i":-0.0072},{"p":"c2","s":"Fe+S","v":-0.7,"i":-0.0056},{"p":"c2","s":"Fe+S","v":-0.65,"i":-0.004},{"p":"c2","s":"Fe+S","v":-0.6,"i":-0.0026},{"p":"c2","s":"Fe+S","v":-0.55,"i":-0.0014},{"p":"c2","s":"Fe+S","v":-0.5,"i":-0.0005},{"p":"c2","s":"Fe+S","v":-0.45,"i":0.0001},{"p":"c2","s":"Fe+S","v":-0.4,"i":0.0005},{"p":"c2","s":"Fe+S","v":-0.3,"i":0.0011},{"p":"c2","s":"Fe+S","v":-0.2,"i":0.0016},{"p":"c2","s":"Fe+S","v":-0.1,"i":0.0021},{"p":"c2","s":"Fe+S","v":0,"i":0.0023},{"p":"c2","s":"Fe+S","v":0.1,"i":0.0023},{"p":"c2","s":"Fe+S","v":0.2,"i":0.0023},{"p":"c2","s":"Fe+S","v":0.3,"i":0.0028},{"p":"c2","s":"Fe+S","v":0.4,"i":0.0027},{"p":"c2","s":"Fe+S","v":0.5,"i":0.0026},{"p":"c2","s":"Fe+S","v":0.6,"i":0.003},{"p":"c2","s":"Fe+S","v":0.7,"i":0.0038},{"p":"c2","s":"Fe+S","v":0.75,"i":0.0046},{"p":"c2","s":"Fe+S","v":0.8,"i":0.0059},{"p":"c2","s":"Fe+S","v":0.78,"i":0.0038},{"p":"c2","s":"Fe+S","v":0.74,"i":0.0014},{"p":"c2","s":"Fe+S","v":0.7,"i":0.0002},{"p":"c2","s":"Fe+S","v":0.6,"i":-0.0003},{"p":"c2","s":"Fe+S","v":0.5,"i":-0.0006},{"p":"c2","s":"Fe+S","v":0.4,"i":-0.0008},{"p":"c2","s":"Fe+S","v":0.3,"i":-0.001},{"p":"c2","s":"Fe+S","v":0.2,"i":-0.0013},{"p":"c2","s":"Fe+S","v":0.1,"i":-0.0021},{"p":"c2","s":"Fe+S","v":0,"i":-0.003},{"p":"c2","s":"Fe+S","v":-0.05,"i":-0.003},{"p":"c2","s":"Fe+S","v":-0.15,"i":-0.0027},{"p":"c2","s":"Fe+S","v":-0.25,"i":-0.0032},{"p":"c2","s":"Fe+S","v":-0.35,"i":-0.004},{"p":"c2","s":"Fe+S","v":-0.45,"i":-0.0047},{"p":"c2","s":"Fe+S","v":-0.55,"i":-0.0052},{"p":"c2","s":"Fe+S","v":-0.65,"i":-0.0058},{"p":"c2","s":"Fe+S","v":-0.72,"i":-0.0065},{"p":"c2","s":"Fe+S","v":-0.8,"i":-0.009},
{"p":"c3","s":"Control","v":-0.8,"i":-0.0079},{"p":"c3","s":"Control","v":-0.76,"i":-0.0062},{"p":"c3","s":"Control","v":-0.72,"i":-0.0046},{"p":"c3","s":"Control","v":-0.68,"i":-0.0033},{"p":"c3","s":"Control","v":-0.64,"i":-0.0022},{"p":"c3","s":"Control","v":-0.6,"i":-0.0014},{"p":"c3","s":"Control","v":-0.55,"i":-0.0007},{"p":"c3","s":"Control","v":-0.5,"i":-0.0002},{"p":"c3","s":"Control","v":-0.4,"i":0.0004},{"p":"c3","s":"Control","v":-0.3,"i":0.0008},{"p":"c3","s":"Control","v":-0.2,"i":0.0011},{"p":"c3","s":"Control","v":-0.1,"i":0.0014},{"p":"c3","s":"Control","v":0,"i":0.0015},{"p":"c3","s":"Control","v":0.1,"i":0.0015},{"p":"c3","s":"Control","v":0.2,"i":0.0015},{"p":"c3","s":"Control","v":0.3,"i":0.002},{"p":"c3","s":"Control","v":0.35,"i":0.0021},{"p":"c3","s":"Control","v":0.45,"i":0.0019},{"p":"c3","s":"Control","v":0.55,"i":0.0018},{"p":"c3","s":"Control","v":0.65,"i":0.0022},{"p":"c3","s":"Control","v":0.72,"i":0.003},{"p":"c3","s":"Control","v":0.8,"i":0.0045},{"p":"c3","s":"Control","v":0.78,"i":0.003},{"p":"c3","s":"Control","v":0.75,"i":0.0012},{"p":"c3","s":"Control","v":0.7,"i":0.0002},{"p":"c3","s":"Control","v":0.6,"i":-0.0002},{"p":"c3","s":"Control","v":0.5,"i":-0.0005},{"p":"c3","s":"Control","v":0.4,"i":-0.0007},{"p":"c3","s":"Control","v":0.3,"i":-0.0008},{"p":"c3","s":"Control","v":0.2,"i":-0.0012},{"p":"c3","s":"Control","v":0.1,"i":-0.0019},{"p":"c3","s":"Control","v":0.03,"i":-0.0026},{"p":"c3","s":"Control","v":-0.05,"i":-0.0029},{"p":"c3","s":"Control","v":-0.15,"i":-0.0026},{"p":"c3","s":"Control","v":-0.25,"i":-0.0028},{"p":"c3","s":"Control","v":-0.35,"i":-0.0035},{"p":"c3","s":"Control","v":-0.45,"i":-0.0043},{"p":"c3","s":"Control","v":-0.55,"i":-0.005},{"p":"c3","s":"Control","v":-0.65,"i":-0.0057},{"p":"c3","s":"Control","v":-0.8,"i":-0.0066},
{"p":"c3","s":"Fe","v":-0.8,"i":-0.0077},{"p":"c3","s":"Fe","v":-0.76,"i":-0.0062},{"p":"c3","s":"Fe","v":-0.72,"i":-0.0047},{"p":"c3","s":"Fe","v":-0.68,"i":-0.0034},{"p":"c3","s":"Fe","v":-0.64,"i":-0.0023},{"p":"c3","s":"Fe","v":-0.6,"i":-0.0014},{"p":"c3","s":"Fe","v":-0.55,"i":-0.0007},{"p":"c3","s":"Fe","v":-0.5,"i":-0.0002},{"p":"c3","s":"Fe","v":-0.4,"i":0.0004},{"p":"c3","s":"Fe","v":-0.3,"i":0.0008},{"p":"c3","s":"Fe","v":-0.2,"i":0.0011},{"p":"c3","s":"Fe","v":-0.1,"i":0.0013},{"p":"c3","s":"Fe","v":0,"i":0.0014},{"p":"c3","s":"Fe","v":0.1,"i":0.0014},{"p":"c3","s":"Fe","v":0.2,"i":0.0014},{"p":"c3","s":"Fe","v":0.3,"i":0.0015},{"p":"c3","s":"Fe","v":0.4,"i":0.0015},{"p":"c3","s":"Fe","v":0.5,"i":0.0016},{"p":"c3","s":"Fe","v":0.6,"i":0.0018},{"p":"c3","s":"Fe","v":0.7,"i":0.0026},{"p":"c3","s":"Fe","v":0.8,"i":0.0043},{"p":"c3","s":"Fe","v":0.78,"i":0.0029},{"p":"c3","s":"Fe","v":0.75,"i":0.0011},{"p":"c3","s":"Fe","v":0.7,"i":0.0001},{"p":"c3","s":"Fe","v":0.6,"i":-0.0003},{"p":"c3","s":"Fe","v":0.5,"i":-0.0005},{"p":"c3","s":"Fe","v":0.4,"i":-0.0007},{"p":"c3","s":"Fe","v":0.3,"i":-0.0008},{"p":"c3","s":"Fe","v":0.2,"i":-0.0011},{"p":"c3","s":"Fe","v":0.1,"i":-0.0017},{"p":"c3","s":"Fe","v":0,"i":-0.0021},{"p":"c3","s":"Fe","v":-0.1,"i":-0.0022},{"p":"c3","s":"Fe","v":-0.2,"i":-0.0025},{"p":"c3","s":"Fe","v":-0.3,"i":-0.0031},{"p":"c3","s":"Fe","v":-0.4,"i":-0.004},{"p":"c3","s":"Fe","v":-0.5,"i":-0.0048},{"p":"c3","s":"Fe","v":-0.6,"i":-0.0055},{"p":"c3","s":"Fe","v":-0.7,"i":-0.0062},{"p":"c3","s":"Fe","v":-0.8,"i":-0.0068},
{"p":"c3","s":"S","v":-0.8,"i":-0.0055},{"p":"c3","s":"S","v":-0.77,"i":-0.0044},{"p":"c3","s":"S","v":-0.74,"i":-0.0034},{"p":"c3","s":"S","v":-0.7,"i":-0.0024},{"p":"c3","s":"S","v":-0.65,"i":-0.0014},{"p":"c3","s":"S","v":-0.6,"i":-0.0007},{"p":"c3","s":"S","v":-0.55,"i":-0.0002},{"p":"c3","s":"S","v":-0.5,"i":0.0001},{"p":"c3","s":"S","v":-0.4,"i":0.0005},{"p":"c3","s":"S","v":-0.3,"i":0.0007},{"p":"c3","s":"S","v":-0.2,"i":0.0008},{"p":"c3","s":"S","v":-0.1,"i":0.0009},{"p":"c3","s":"S","v":0,"i":0.0009},{"p":"c3","s":"S","v":0.1,"i":0.0009},{"p":"c3","s":"S","v":0.2,"i":0.0009},{"p":"c3","s":"S","v":0.3,"i":0.001},{"p":"c3","s":"S","v":0.4,"i":0.0011},{"p":"c3","s":"S","v":0.5,"i":0.0013},{"p":"c3","s":"S","v":0.6,"i":0.0016},{"p":"c3","s":"S","v":0.7,"i":0.0025},{"p":"c3","s":"S","v":0.8,"i":0.0042},{"p":"c3","s":"S","v":0.78,"i":0.0028},{"p":"c3","s":"S","v":0.75,"i":0.0011},{"p":"c3","s":"S","v":0.7,"i":0.0001},{"p":"c3","s":"S","v":0.6,"i":-0.0002},{"p":"c3","s":"S","v":0.5,"i":-0.0004},{"p":"c3","s":"S","v":0.4,"i":-0.0005},{"p":"c3","s":"S","v":0.3,"i":-0.0006},{"p":"c3","s":"S","v":0.2,"i":-0.0008},{"p":"c3","s":"S","v":0.1,"i":-0.0012},{"p":"c3","s":"S","v":0,"i":-0.0018},{"p":"c3","s":"S","v":-0.1,"i":-0.0016},{"p":"c3","s":"S","v":-0.2,"i":-0.0017},{"p":"c3","s":"S","v":-0.3,"i":-0.0022},{"p":"c3","s":"S","v":-0.4,"i":-0.0027},{"p":"c3","s":"S","v":-0.5,"i":-0.0031},{"p":"c3","s":"S","v":-0.6,"i":-0.0036},{"p":"c3","s":"S","v":-0.7,"i":-0.0041},{"p":"c3","s":"S","v":-0.8,"i":-0.0048},
{"p":"c3","s":"Fe+S","v":-0.8,"i":-0.0095},{"p":"c3","s":"Fe+S","v":-0.77,"i":-0.0085},{"p":"c3","s":"Fe+S","v":-0.74,"i":-0.0068},{"p":"c3","s":"Fe+S","v":-0.7,"i":-0.0052},{"p":"c3","s":"Fe+S","v":-0.65,"i":-0.0035},{"p":"c3","s":"Fe+S","v":-0.6,"i":-0.0022},{"p":"c3","s":"Fe+S","v":-0.55,"i":-0.0012},{"p":"c3","s":"Fe+S","v":-0.5,"i":-0.0005},{"p":"c3","s":"Fe+S","v":-0.4,"i":0.0004},{"p":"c3","s":"Fe+S","v":-0.3,"i":0.001},{"p":"c3","s":"Fe+S","v":-0.2,"i":0.0014},{"p":"c3","s":"Fe+S","v":-0.1,"i":0.0018},{"p":"c3","s":"Fe+S","v":0,"i":0.0019},{"p":"c3","s":"Fe+S","v":0.1,"i":0.0019},{"p":"c3","s":"Fe+S","v":0.2,"i":0.002},{"p":"c3","s":"Fe+S","v":0.3,"i":0.0025},{"p":"c3","s":"Fe+S","v":0.35,"i":0.0026},{"p":"c3","s":"Fe+S","v":0.45,"i":0.0024},{"p":"c3","s":"Fe+S","v":0.55,"i":0.0023},{"p":"c3","s":"Fe+S","v":0.65,"i":0.0027},{"p":"c3","s":"Fe+S","v":0.72,"i":0.0035},{"p":"c3","s":"Fe+S","v":0.8,"i":0.0047},{"p":"c3","s":"Fe+S","v":0.78,"i":0.0031},{"p":"c3","s":"Fe+S","v":0.75,"i":0.0012},{"p":"c3","s":"Fe+S","v":0.7,"i":0.0001},{"p":"c3","s":"Fe+S","v":0.6,"i":-0.0004},{"p":"c3","s":"Fe+S","v":0.5,"i":-0.0007},{"p":"c3","s":"Fe+S","v":0.4,"i":-0.0009},{"p":"c3","s":"Fe+S","v":0.3,"i":-0.001},{"p":"c3","s":"Fe+S","v":0.2,"i":-0.0014},{"p":"c3","s":"Fe+S","v":0.1,"i":-0.0021},{"p":"c3","s":"Fe+S","v":0,"i":-0.0027},{"p":"c3","s":"Fe+S","v":-0.1,"i":-0.0028},{"p":"c3","s":"Fe+S","v":-0.2,"i":-0.0031},{"p":"c3","s":"Fe+S","v":-0.3,"i":-0.0037},{"p":"c3","s":"Fe+S","v":-0.4,"i":-0.0045},{"p":"c3","s":"Fe+S","v":-0.5,"i":-0.0053},{"p":"c3","s":"Fe+S","v":-0.6,"i":-0.006},{"p":"c3","s":"Fe+S","v":-0.7,"i":-0.0068},{"p":"c3","s":"Fe+S","v":-0.8,"i":-0.008}
],
"eis":[
{"p":"d1","s":"Control","x":3.75,"y":0.05},{"p":"d1","s":"Control","x":3.78,"y":0.2},{"p":"d1","s":"Control","x":3.85,"y":0.35},{"p":"d1","s":"Control","x":3.95,"y":0.5},{"p":"d1","s":"Control","x":4.05,"y":0.62},{"p":"d1","s":"Control","x":4.2,"y":0.75},{"p":"d1","s":"Control","x":4.4,"y":0.88},{"p":"d1","s":"Control","x":4.6,"y":0.98},{"p":"d1","s":"Control","x":4.85,"y":1.08},{"p":"d1","s":"Control","x":5.1,"y":1.16},{"p":"d1","s":"Control","x":5.4,"y":1.22},{"p":"d1","s":"Control","x":5.7,"y":1.26},{"p":"d1","s":"Control","x":6.0,"y":1.27},{"p":"d1","s":"Control","x":6.3,"y":1.25},{"p":"d1","s":"Control","x":6.6,"y":1.2},{"p":"d1","s":"Control","x":6.9,"y":1.08},{"p":"d1","s":"Control","x":7.2,"y":0.9},{"p":"d1","s":"Control","x":7.5,"y":0.7},{"p":"d1","s":"Control","x":7.75,"y":0.5},{"p":"d1","s":"Control","x":7.95,"y":0.42},{"p":"d1","s":"Control","x":8.15,"y":0.55},{"p":"d1","s":"Control","x":8.35,"y":0.8},{"p":"d1","s":"Control","x":8.55,"y":1.05},{"p":"d1","s":"Control","x":8.75,"y":1.3},{"p":"d1","s":"Control","x":8.95,"y":1.55},{"p":"d1","s":"Control","x":9.15,"y":1.75},{"p":"d1","s":"Control","x":9.3,"y":1.97},{"p":"d1","s":"Control","x":9.5,"y":2.3},{"p":"d1","s":"Control","x":9.8,"y":2.63},{"p":"d1","s":"Control","x":9.95,"y":3.05},{"p":"d1","s":"Control","x":10.25,"y":3.52},{"p":"d1","s":"Control","x":10.45,"y":4.08},{"p":"d1","s":"Control","x":10.7,"y":4.75},{"p":"d1","s":"Control","x":10.95,"y":5.52},
{"p":"d1","s":"Fe","x":6.8,"y":1.1},{"p":"d1","s":"Fe","x":7.1,"y":1.2},{"p":"d1","s":"Fe","x":7.4,"y":1.3},{"p":"d1","s":"Fe","x":7.7,"y":1.4},{"p":"d1","s":"Fe","x":8.0,"y":1.48},{"p":"d1","s":"Fe","x":8.3,"y":1.54},{"p":"d1","s":"Fe","x":8.6,"y":1.59},{"p":"d1","s":"Fe","x":8.9,"y":1.61},{"p":"d1","s":"Fe","x":9.2,"y":1.62},{"p":"d1","s":"Fe","x":9.5,"y":1.6},{"p":"d1","s":"Fe","x":9.8,"y":1.55},{"p":"d1","s":"Fe","x":10.1,"y":1.45},{"p":"d1","s":"Fe","x":10.4,"y":1.3},{"p":"d1","s":"Fe","x":10.7,"y":1.1},{"p":"d1","s":"Fe","x":10.95,"y":0.92},{"p":"d1","s":"Fe","x":11.2,"y":0.78},{"p":"d1","s":"Fe","x":11.45,"y":0.72},{"p":"d1","s":"Fe","x":11.7,"y":0.82},{"p":"d1","s":"Fe","x":11.95,"y":1.0},{"p":"d1","s":"Fe","x":12.15,"y":1.18},{"p":"d1","s":"Fe","x":12.35,"y":1.38},{"p":"d1","s":"Fe","x":12.55,"y":1.6},{"p":"d1","s":"Fe","x":12.75,"y":1.8},{"p":"d1","s":"Fe","x":12.95,"y":2.0},{"p":"d1","s":"Fe","x":13.15,"y":2.25},{"p":"d1","s":"Fe","x":13.35,"y":2.55},{"p":"d1","s":"Fe","x":13.6,"y":2.93},{"p":"d1","s":"Fe","x":13.9,"y":3.38},{"p":"d1","s":"Fe","x":14.2,"y":3.92},{"p":"d1","s":"Fe","x":14.4,"y":4.53},
{"p":"d1","s":"S","x":5.05,"y":1.13},{"p":"d1","s":"S","x":5.2,"y":1.35},{"p":"d1","s":"S","x":5.4,"y":1.56},{"p":"d1","s":"S","x":5.55,"y":1.75},{"p":"d1","s":"S","x":5.72,"y":1.97},{"p":"d1","s":"S","x":5.98,"y":2.3},{"p":"d1","s":"S","x":6.4,"y":2.6},{"p":"d1","s":"S","x":6.9,"y":2.85},{"p":"d1","s":"S","x":7.4,"y":3.18},{"p":"d1","s":"S","x":7.8,"y":3.42},{"p":"d1","s":"S","x":8.2,"y":3.68},{"p":"d1","s":"S","x":8.85,"y":3.92},{"p":"d1","s":"S","x":9.5,"y":4.12},{"p":"d1","s":"S","x":10.05,"y":4.3},{"p":"d1","s":"S","x":10.6,"y":4.4},{"p":"d1","s":"S","x":11.3,"y":4.43},{"p":"d1","s":"S","x":12.0,"y":4.4},{"p":"d1","s":"S","x":12.75,"y":4.32},{"p":"d1","s":"S","x":13.4,"y":4.16},{"p":"d1","s":"S","x":13.95,"y":3.98},{"p":"d1","s":"S","x":14.6,"y":3.7},{"p":"d1","s":"S","x":15.1,"y":3.4},{"p":"d1","s":"S","x":15.5,"y":3.08},{"p":"d1","s":"S","x":15.85,"y":2.76},{"p":"d1","s":"S","x":16.15,"y":2.44},{"p":"d1","s":"S","x":16.35,"y":2.15},{"p":"d1","s":"S","x":16.5,"y":1.87},{"p":"d1","s":"S","x":16.65,"y":1.62},{"p":"d1","s":"S","x":16.8,"y":1.4},{"p":"d1","s":"S","x":16.95,"y":1.18},{"p":"d1","s":"S","x":17.1,"y":1.05},{"p":"d1","s":"S","x":17.3,"y":0.99},{"p":"d1","s":"S","x":17.5,"y":0.98},{"p":"d1","s":"S","x":17.7,"y":1.0},{"p":"d1","s":"S","x":17.85,"y":1.12},{"p":"d1","s":"S","x":18.0,"y":1.25},{"p":"d1","s":"S","x":18.1,"y":1.42},{"p":"d1","s":"S","x":18.25,"y":1.65},{"p":"d1","s":"S","x":18.55,"y":1.93},{"p":"d1","s":"S","x":18.85,"y":2.17},{"p":"d1","s":"S","x":19.15,"y":2.48},{"p":"d1","s":"S","x":19.45,"y":2.85},{"p":"d1","s":"S","x":19.75,"y":3.28},{"p":"d1","s":"S","x":20.0,"y":3.69},{"p":"d1","s":"S","x":20.25,"y":4.18},
{"p":"d1","s":"Fe+S","x":3.88,"y":1.0},{"p":"d1","s":"Fe+S","x":4.0,"y":1.34},{"p":"d1","s":"Fe+S","x":4.35,"y":1.65},{"p":"d1","s":"Fe+S","x":4.7,"y":1.93},{"p":"d1","s":"Fe+S","x":5.0,"y":2.1},{"p":"d1","s":"Fe+S","x":5.3,"y":2.2},{"p":"d1","s":"Fe+S","x":5.6,"y":2.35},{"p":"d1","s":"Fe+S","x":5.9,"y":2.48},{"p":"d1","s":"Fe+S","x":6.25,"y":2.53},{"p":"d1","s":"Fe+S","x":6.6,"y":2.48},{"p":"d1","s":"Fe+S","x":7.0,"y":2.4},{"p":"d1","s":"Fe+S","x":7.25,"y":2.28},{"p":"d1","s":"Fe+S","x":7.5,"y":2.18},{"p":"d1","s":"Fe+S","x":7.8,"y":2.02},{"p":"d1","s":"Fe+S","x":8.1,"y":1.87},{"p":"d1","s":"Fe+S","x":8.4,"y":1.74},{"p":"d1","s":"Fe+S","x":8.65,"y":1.66},{"p":"d1","s":"Fe+S","x":8.85,"y":1.68},{"p":"d1","s":"Fe+S","x":9.05,"y":1.8},{"p":"d1","s":"Fe+S","x":9.2,"y":1.92},{"p":"d1","s":"Fe+S","x":9.4,"y":2.15},{"p":"d1","s":"Fe+S","x":9.6,"y":2.4},{"p":"d1","s":"Fe+S","x":9.85,"y":2.65},{"p":"d1","s":"Fe+S","x":10.2,"y":3.07},{"p":"d1","s":"Fe+S","x":10.9,"y":3.38},
{"p":"d2","s":"Control","x":11.1,"y":0.98},{"p":"d2","s":"Control","x":11.35,"y":1.05},{"p":"d2","s":"Control","x":11.6,"y":1.1},{"p":"d2","s":"Control","x":11.85,"y":1.12},{"p":"d2","s":"Control","x":12.1,"y":1.12},{"p":"d2","s":"Control","x":12.35,"y":1.1},{"p":"d2","s":"Control","x":12.6,"y":1.04},{"p":"d2","s":"Control","x":12.85,"y":0.94},{"p":"d2","s":"Control","x":13.1,"y":0.8},{"p":"d2","s":"Control","x":13.35,"y":0.64},{"p":"d2","s":"Control","x":13.6,"y":0.48},{"p":"d2","s":"Control","x":13.8,"y":0.38},{"p":"d2","s":"Control","x":13.95,"y":0.35},{"p":"d2","s":"Control","x":14.1,"y":0.5},{"p":"d2","s":"Control","x":14.25,"y":0.75},{"p":"d2","s":"Control","x":14.4,"y":0.98},{"p":"d2","s":"Control","x":14.55,"y":1.2},{"p":"d2","s":"Control","x":14.75,"y":1.45},{"p":"d2","s":"Control","x":14.9,"y":1.65},{"p":"d2","s":"Control","x":15.1,"y":1.9},{"p":"d2","s":"Control","x":15.3,"y":2.15},{"p":"d2","s":"Control","x":15.6,"y":2.5},{"p":"d2","s":"Control","x":15.95,"y":2.88},{"p":"d2","s":"Control","x":16.2,"y":3.3},{"p":"d2","s":"Control","x":16.5,"y":3.78},
{"p":"d2","s":"Fe","x":7.8,"y":1.1},{"p":"d2","s":"Fe","x":7.9,"y":1.2},{"p":"d2","s":"Fe","x":8.0,"y":1.32},{"p":"d2","s":"Fe","x":8.15,"y":1.55},{"p":"d2","s":"Fe","x":8.3,"y":1.78},{"p":"d2","s":"Fe","x":8.5,"y":2.0},{"p":"d2","s":"Fe","x":8.8,"y":2.25},{"p":"d2","s":"Fe","x":9.1,"y":2.5},{"p":"d2","s":"Fe","x":9.4,"y":2.78},{"p":"d2","s":"Fe","x":9.65,"y":3.05},{"p":"d2","s":"Fe","x":10.05,"y":3.34},{"p":"d2","s":"Fe","x":10.5,"y":3.66},{"p":"d2","s":"Fe","x":10.97,"y":3.97},{"p":"d2","s":"Fe","x":11.55,"y":4.2},{"p":"d2","s":"Fe","x":12.2,"y":4.38},{"p":"d2","s":"Fe","x":12.9,"y":4.47},{"p":"d2","s":"Fe","x":13.5,"y":4.48},{"p":"d2","s":"Fe","x":14.2,"y":4.39},{"p":"d2","s":"Fe","x":14.78,"y":4.15},{"p":"d2","s":"Fe","x":15.3,"y":3.87},{"p":"d2","s":"Fe","x":15.77,"y":3.55},{"p":"d2","s":"Fe","x":16.25,"y":3.19},{"p":"d2","s":"Fe","x":16.6,"y":2.95},{"p":"d2","s":"Fe","x":17.0,"y":2.64},{"p":"d2","s":"Fe","x":17.3,"y":2.31},{"p":"d2","s":"Fe","x":17.6,"y":2.03},{"p":"d2","s":"Fe","x":17.85,"y":1.7},{"p":"d2","s":"Fe","x":18.1,"y":1.35},{"p":"d2","s":"Fe","x":18.35,"y":1.04},{"p":"d2","s":"Fe","x":18.65,"y":0.8},{"p":"d2","s":"Fe","x":18.85,"y":0.76},{"p":"d2","s":"Fe","x":19.0,"y":0.86},{"p":"d2","s":"Fe","x":19.2,"y":1.17},{"p":"d2","s":"Fe","x":19.45,"y":1.66},{"p":"d2","s":"Fe","x":19.7,"y":2.09},{"p":"d2","s":"Fe","x":19.95,"y":2.52},{"p":"d2","s":"Fe","x":20.15,"y":2.95},{"p":"d2","s":"Fe","x":20.4,"y":3.46},
{"p":"d2","s":"S","x":5.45,"y":0.95},{"p":"d2","s":"S","x":5.6,"y":1.1},{"p":"d2","s":"S","x":5.8,"y":1.35},{"p":"d2","s":"S","x":6.0,"y":1.62},{"p":"d2","s":"S","x":6.25,"y":1.9},{"p":"d2","s":"S","x":6.5,"y":2.15},{"p":"d2","s":"S","x":6.85,"y":2.38},{"p":"d2","s":"S","x":7.25,"y":2.62},{"p":"d2","s":"S","x":7.65,"y":2.88},{"p":"d2","s":"S","x":8.05,"y":3.14},{"p":"d2","s":"S","x":8.5,"y":3.42},{"p":"d2","s":"S","x":8.95,"y":3.7},{"p":"d2","s":"S","x":9.45,"y":3.95},{"p":"d2","s":"S","x":9.95,"y":4.18},{"p":"d2","s":"S","x":10.55,"y":4.35},{"p":"d2","s":"S","x":11.25,"y":4.45},{"p":"d2","s":"S","x":12.0,"y":4.52},{"p":"d2","s":"S","x":12.7,"y":4.5},{"p":"d2","s":"S","x":13.4,"y":4.44},{"p":"d2","s":"S","x":14.05,"y":4.28},{"p":"d2","s":"S","x":14.75,"y":4.12},{"p":"d2","s":"S","x":15.3,"y":3.85},{"p":"d2","s":"S","x":15.85,"y":3.55},{"p":"d2","s":"S","x":16.3,"y":3.22},{"p":"d2","s":"S","x":16.8,"y":2.88},{"p":"d2","s":"S","x":17.1,"y":2.56},{"p":"d2","s":"S","x":17.35,"y":2.3},{"p":"d2","s":"S","x":17.55,"y":2.0},{"p":"d2","s":"S","x":17.75,"y":1.62},{"p":"d2","s":"S","x":17.95,"y":1.3},{"p":"d2","s":"S","x":18.2,"y":1.0},{"p":"d2","s":"S","x":18.45,"y":0.85},{"p":"d2","s":"S","x":18.7,"y":0.88},{"p":"d2","s":"S","x":18.9,"y":1.1},{"p":"d2","s":"S","x":19.1,"y":1.4},{"p":"d2","s":"S","x":19.3,"y":1.75},{"p":"d2","s":"S","x":19.5,"y":2.02},{"p":"d2","s":"S","x":19.7,"y":2.3},{"p":"d2","s":"S","x":19.9,"y":2.62},{"p":"d2","s":"S","x":20.1,"y":3.0},{"p":"d2","s":"S","x":20.3,"y":3.55},
{"p":"d2","s":"Fe+S","x":4.1,"y":0.5},{"p":"d2","s":"Fe+S","x":4.3,"y":0.7},{"p":"d2","s":"Fe+S","x":4.55,"y":0.95},{"p":"d2","s":"Fe+S","x":4.85,"y":1.2},{"p":"d2","s":"Fe+S","x":5.15,"y":1.45},{"p":"d2","s":"Fe+S","x":5.5,"y":1.7},{"p":"d2","s":"Fe+S","x":5.9,"y":1.95},{"p":"d2","s":"Fe+S","x":6.3,"y":2.1},{"p":"d2","s":"Fe+S","x":6.8,"y":2.2},{"p":"d2","s":"Fe+S","x":7.3,"y":2.25},{"p":"d2","s":"Fe+S","x":7.8,"y":2.25},{"p":"d2","s":"Fe+S","x":8.3,"y":2.21},{"p":"d2","s":"Fe+S","x":8.8,"y":2.12},{"p":"d2","s":"Fe+S","x":9.3,"y":1.95},{"p":"d2","s":"Fe+S","x":9.8,"y":1.68},{"p":"d2","s":"Fe+S","x":10.3,"y":1.38},{"p":"d2","s":"Fe+S","x":10.75,"y":1.05},{"p":"d2","s":"Fe+S","x":11.05,"y":0.9},{"p":"d2","s":"Fe+S","x":11.27,"y":0.8},{"p":"d2","s":"Fe+S","x":11.45,"y":1.1},{"p":"d2","s":"Fe+S","x":11.56,"y":1.46},{"p":"d2","s":"Fe+S","x":11.7,"y":1.7},{"p":"d2","s":"Fe+S","x":11.82,"y":1.97},{"p":"d2","s":"Fe+S","x":12.08,"y":2.31},{"p":"d2","s":"Fe+S","x":12.34,"y":2.63},{"p":"d2","s":"Fe+S","x":12.7,"y":3.06},{"p":"d2","s":"Fe+S","x":13.26,"y":3.65},
{"p":"d3","s":"Control","x":9.68,"y":0.27},{"p":"d3","s":"Control","x":9.75,"y":0.45},{"p":"d3","s":"Control","x":9.85,"y":0.65},{"p":"d3","s":"Control","x":10.0,"y":0.85},{"p":"d3","s":"Control","x":10.2,"y":1.05},{"p":"d3","s":"Control","x":10.4,"y":1.25},{"p":"d3","s":"Control","x":10.6,"y":1.45},{"p":"d3","s":"Control","x":10.85,"y":1.65},{"p":"d3","s":"Control","x":11.1,"y":1.85},{"p":"d3","s":"Control","x":11.4,"y":2.05},{"p":"d3","s":"Control","x":11.7,"y":2.25},{"p":"d3","s":"Control","x":12.0,"y":2.4},{"p":"d3","s":"Control","x":12.4,"y":2.55},{"p":"d3","s":"Control","x":12.8,"y":2.66},{"p":"d3","s":"Control","x":13.2,"y":2.75},{"p":"d3","s":"Control","x":13.6,"y":2.8},{"p":"d3","s":"Control","x":14.0,"y":2.82},{"p":"d3","s":"Control","x":14.4,"y":2.79},{"p":"d3","s":"Control","x":14.8,"y":2.73},{"p":"d3","s":"Control","x":15.2,"y":2.63},{"p":"d3","s":"Control","x":15.55,"y":2.48},{"p":"d3","s":"Control","x":15.85,"y":2.3},{"p":"d3","s":"Control","x":16.15,"y":2.08},{"p":"d3","s":"Control","x":16.45,"y":1.83},{"p":"d3","s":"Control","x":16.75,"y":1.55},{"p":"d3","s":"Control","x":17.05,"y":1.25},{"p":"d3","s":"Control","x":17.35,"y":0.98},{"p":"d3","s":"Control","x":17.65,"y":0.8},{"p":"d3","s":"Control","x":17.95,"y":0.73},{"p":"d3","s":"Control","x":18.25,"y":0.78},{"p":"d3","s":"Control","x":18.5,"y":1.0},{"p":"d3","s":"Control","x":18.7,"y":1.3},{"p":"d3","s":"Control","x":18.9,"y":1.65},{"p":"d3","s":"Control","x":19.1,"y":2.0},{"p":"d3","s":"Control","x":19.3,"y":2.4},{"p":"d3","s":"Control","x":19.5,"y":2.82},{"p":"d3","s":"Control","x":19.76,"y":3.2},{"p":"d3","s":"Control","x":20.13,"y":3.7},
{"p":"d3","s":"Fe","x":6.1,"y":0.06},{"p":"d3","s":"Fe","x":6.15,"y":0.3},{"p":"d3","s":"Fe","x":6.25,"y":0.55},{"p":"d3","s":"Fe","x":6.4,"y":0.85},{"p":"d3","s":"Fe","x":6.55,"y":1.1},{"p":"d3","s":"Fe","x":6.75,"y":1.45},{"p":"d3","s":"Fe","x":7.0,"y":1.8},{"p":"d3","s":"Fe","x":7.3,"y":2.2},{"p":"d3","s":"Fe","x":7.6,"y":2.55},{"p":"d3","s":"Fe","x":7.95,"y":2.85},{"p":"d3","s":"Fe","x":8.35,"y":3.15},{"p":"d3","s":"Fe","x":8.75,"y":3.4},{"p":"d3","s":"Fe","x":9.2,"y":3.62},{"p":"d3","s":"Fe","x":9.7,"y":3.85},{"p":"d3","s":"Fe","x":10.2,"y":4.03},{"p":"d3","s":"Fe","x":10.75,"y":4.13},{"p":"d3","s":"Fe","x":11.35,"y":4.18},{"p":"d3","s":"Fe","x":12.0,"y":4.19},{"p":"d3","s":"Fe","x":12.63,"y":4.1},{"p":"d3","s":"Fe","x":13.1,"y":3.95},{"p":"d3","s":"Fe","x":13.5,"y":3.78},{"p":"d3","s":"Fe","x":14.0,"y":3.5},{"p":"d3","s":"Fe","x":14.5,"y":3.12},{"p":"d3","s":"Fe","x":14.96,"y":2.78},{"p":"d3","s":"Fe","x":15.4,"y":2.41},{"p":"d3","s":"Fe","x":15.77,"y":2.04},{"p":"d3","s":"Fe","x":16.14,"y":1.71},{"p":"d3","s":"Fe","x":16.59,"y":1.35},{"p":"d3","s":"Fe","x":16.96,"y":1.04},{"p":"d3","s":"Fe","x":17.2,"y":0.93},{"p":"d3","s":"Fe","x":17.45,"y":0.9},{"p":"d3","s":"Fe","x":17.7,"y":1.1},{"p":"d3","s":"Fe","x":17.9,"y":1.47},{"p":"d3","s":"Fe","x":18.15,"y":1.7},{"p":"d3","s":"Fe","x":18.36,"y":1.92},{"p":"d3","s":"Fe","x":18.55,"y":2.12},{"p":"d3","s":"Fe","x":18.73,"y":2.33},{"p":"d3","s":"Fe","x":18.95,"y":2.63},{"p":"d3","s":"Fe","x":19.2,"y":2.96},{"p":"d3","s":"Fe","x":19.45,"y":3.42},{"p":"d3","s":"Fe","x":19.73,"y":3.92},{"p":"d3","s":"Fe","x":20.2,"y":4.5},
{"p":"d3","s":"S","x":8.87,"y":0.21},{"p":"d3","s":"S","x":9.0,"y":0.49},{"p":"d3","s":"S","x":9.16,"y":0.73},{"p":"d3","s":"S","x":9.42,"y":0.98},{"p":"d3","s":"S","x":9.68,"y":1.41},{"p":"d3","s":"S","x":9.94,"y":1.9},{"p":"d3","s":"S","x":10.34,"y":2.41},{"p":"d3","s":"S","x":10.7,"y":2.69},{"p":"d3","s":"S","x":11.15,"y":2.94},{"p":"d3","s":"S","x":11.4,"y":3.3},{"p":"d3","s":"S","x":11.7,"y":3.61},{"p":"d3","s":"S","x":12.26,"y":3.94},{"p":"d3","s":"S","x":12.93,"y":4.26},{"p":"d3","s":"S","x":13.56,"y":4.47},{"p":"d3","s":"S","x":14.1,"y":4.77},{"p":"d3","s":"S","x":14.85,"y":5.0},{"p":"d3","s":"S","x":15.6,"y":5.12},{"p":"d3","s":"S","x":16.33,"y":5.18},{"p":"d3","s":"S","x":17.2,"y":5.17},{"p":"d3","s":"S","x":18.0,"y":5.06},{"p":"d3","s":"S","x":18.9,"y":4.87},{"p":"d3","s":"S","x":19.65,"y":4.61},{"p":"d3","s":"S","x":20.3,"y":4.25},{"p":"d3","s":"S","x":20.87,"y":3.86},{"p":"d3","s":"S","x":21.4,"y":3.43},{"p":"d3","s":"S","x":21.8,"y":3.06},{"p":"d3","s":"S","x":22.16,"y":2.69},{"p":"d3","s":"S","x":22.5,"y":2.3},{"p":"d3","s":"S","x":22.8,"y":1.96},{"p":"d3","s":"S","x":22.98,"y":1.6},{"p":"d3","s":"S","x":23.16,"y":1.22},{"p":"d3","s":"S","x":23.4,"y":0.98},{"p":"d3","s":"S","x":23.7,"y":0.92},{"p":"d3","s":"S","x":24.0,"y":1.1},{"p":"d3","s":"S","x":24.2,"y":1.4},{"p":"d3","s":"S","x":24.35,"y":1.65},{"p":"d3","s":"S","x":24.45,"y":1.96},{"p":"d3","s":"S","x":24.64,"y":2.57},{"p":"d3","s":"S","x":24.9,"y":2.94},{"p":"d3","s":"S","x":25.05,"y":3.5},{"p":"d3","s":"S","x":25.2,"y":4.04},{"p":"d3","s":"S","x":25.45,"y":4.83},
{"p":"d3","s":"Fe+S","x":6.7,"y":0.05},{"p":"d3","s":"Fe+S","x":6.73,"y":0.3},{"p":"d3","s":"Fe+S","x":6.8,"y":0.55},{"p":"d3","s":"Fe+S","x":6.92,"y":0.8},{"p":"d3","s":"Fe+S","x":7.1,"y":1.0},{"p":"d3","s":"Fe+S","x":7.35,"y":1.2},{"p":"d3","s":"Fe+S","x":7.65,"y":1.38},{"p":"d3","s":"Fe+S","x":8.0,"y":1.52},{"p":"d3","s":"Fe+S","x":8.4,"y":1.64},{"p":"d3","s":"Fe+S","x":8.8,"y":1.73},{"p":"d3","s":"Fe+S","x":9.2,"y":1.78},{"p":"d3","s":"Fe+S","x":9.68,"y":1.81},{"p":"d3","s":"Fe+S","x":10.1,"y":1.78},{"p":"d3","s":"Fe+S","x":10.5,"y":1.68},{"p":"d3","s":"Fe+S","x":10.9,"y":1.5},{"p":"d3","s":"Fe+S","x":11.3,"y":1.25},{"p":"d3","s":"Fe+S","x":11.6,"y":0.98},{"p":"d3","s":"Fe+S","x":11.9,"y":0.72},{"p":"d3","s":"Fe+S","x":12.19,"y":0.61},{"p":"d3","s":"Fe+S","x":12.45,"y":0.8},{"p":"d3","s":"Fe+S","x":12.6,"y":1.05},{"p":"d3","s":"Fe+S","x":12.8,"y":1.35},{"p":"d3","s":"Fe+S","x":12.93,"y":1.55},{"p":"d3","s":"Fe+S","x":13.1,"y":1.9},{"p":"d3","s":"Fe+S","x":13.37,"y":2.45},{"p":"d3","s":"Fe+S","x":13.7,"y":2.88},{"p":"d3","s":"Fe+S","x":14.11,"y":3.37},{"p":"d3","s":"Fe+S","x":14.5,"y":3.92},{"p":"d3","s":"Fe+S","x":14.92,"y":4.53}
]
},
"spacing":14.5,
"resolve":{"scale":{"color":"independent","shape":"independent","fill":"independent"},"legend":{"color":"independent","shape":"independent","fill":"independent"}},
"vconcat":[
{"spacing":0.65,
"resolve":{"scale":{"color":"independent","shape":"independent","fill":"independent"},"legend":{"color":"independent","shape":"independent","fill":"independent"}},
"hconcat":[
{"width":262.6,"height":208,
"layer":[
{"data":{"name":"ts"},"mark":{"type":"line","strokeWidth":0.9,"opacity":0.6},
"encoding":{
"x":{"field":"t","type":"quantitative","scale":{"domain":[0,31],"nice":false,"zero":false},"axis":{"title":"Time (h)","values":[0,5,10,15,20,25,30],"tickCount":100,"format":"d","labelPadding":4.5,"titlePadding":0}},
"y":{"field":"v","type":"quantitative","scale":{"domain":[0,0.34],"nice":false},"axis":{"title":"Voltage (V)","values":[0,0.05,0.1,0.15,0.2,0.25,0.3],"tickCount":100,"format":".2f","labelPadding":1.5,"titleX":-30.2,"titleBaseline":"middle"}},
"color":{"field":"s","type":"nominal","scale":{"domain":["Control","Fe","S","Fe+S"],"range":["#000000","#ff0000","#1a9a1a","#1a1aff"]}}}},
{"data":{"name":"ts"},"mark":{"type":"point","filled":true,"size":16,"opacity":1},
"encoding":{
"x":{"field":"t","type":"quantitative"},
"y":{"field":"v","type":"quantitative"},
"color":{"field":"s","type":"nominal","legend":{"title":null,"orient":"none","legendX":205,"legendY":1.5,"labelFontSize":10,"rowPadding":0.7,"labelOffset":11,"symbolSize":22}},
"shape":{"field":"s","type":"nominal","scale":{"domain":["Control","Fe","S","Fe+S"],"range":["square","circle","triangle-up","triangle-down"]},"legend":{"title":null,"orient":"none","legendX":205,"legendY":1.5,"labelFontSize":10,"rowPadding":0.7,"labelOffset":11,"symbolSize":22}}}},
{"data":{"values":[{"t":10},{"t":20.3}]},"mark":{"type":"rule","strokeDash":[5,3],"color":"black","strokeWidth":1.2},
"encoding":{"x":{"field":"t","type":"quantitative"},"y":{"datum":0},"y2":{"datum":0.275}}},
{"data":{"values":[{"t":6.25,"v":0.265,"lab":"1st Cycle"},{"t":16.1,"v":0.21,"lab":"2nd Cycle"},{"t":26.9,"v":0.1625,"lab":"3rd Cycle"}]},"mark":{"type":"text","fontSize":10.5},
"encoding":{"x":{"field":"t","type":"quantitative"},"y":{"field":"v","type":"quantitative"},"text":{"field":"lab"}}},
{"data":{"values":[{"t":1.77,"v":0.32,"lab":"a"}]},"mark":{"type":"text","fontSize":13},
"encoding":{"x":{"field":"t","type":"quantitative"},"y":{"field":"v","type":"quantitative"},"text":{"field":"lab"}}}
]},
{"width":268,"height":211,
"encoding":{
"x":{"field":"g","type":"nominal","sort":["Control","Fe","S","Fe+S"],"scale":{"paddingInner":0,"paddingOuter":0},"axis":{"title":null,"labelAngle":0,"tickSize":4,"labelPadding":9.9,"labelFontSize":10}},
"xOffset":{"field":"c","type":"nominal","sort":["1st cycle","2nd cycle","3rd cycle"],"scale":{"paddingInner":0.21,"paddingOuter":0.435}}},
"layer":[
{"data":{"name":"bars"},"mark":{"type":"bar","stroke":"#8a8a8a","strokeWidth":1.2},
"encoding":{
"y":{"field":"m","type":"quantitative","scale":{"domain":[0,45],"nice":false},"axis":{"title":"Maximum Power density (mW/m²)","values":[0,10,20,30,40],"tickCount":100,"format":"d","tickSize":5,"labelPadding":2,"titleX":-25.3,"titleBaseline":"middle","titleFontSize":11}},
"fill":{"field":"c","type":"nominal","sort":["1st cycle","2nd cycle","3rd cycle"],"scale":{"domain":["1st cycle","2nd cycle","3rd cycle"],"range":["#fad4ad","#d4f5b4","#dc9cf0"]},"legend":{"title":null,"orient":"none","direction":"horizontal","legendX":28.7,"legendY":2,"symbolType":"M-1,-0.5H1V0.5H-1Z","symbolSize":441,"symbolStrokeColor":"#8a8a8a","symbolStrokeWidth":1,"symbolOpacity":1,"labelFontSize":9.5,"labelFontWeight":"bold","labelOffset":3,"columnPadding":1}}}},
{"data":{"name":"bars"},"mark":{"type":"rule","color":"black","strokeWidth":1},
"encoding":{"y":{"field":"lo","type":"quantitative","title":"Maximum Power density (mW/m²)"},"y2":{"field":"hi"}}},
{"data":{"name":"bars"},"mark":{"type":"tick","color":"black","size":6,"thickness":1},
"encoding":{"y":{"field":"lo","type":"quantitative","title":"Maximum Power density (mW/m²)"}}},
{"data":{"name":"bars"},"mark":{"type":"tick","color":"black","size":6,"thickness":1},
"encoding":{"y":{"field":"hi","type":"quantitative","title":"Maximum Power density (mW/m²)"}}},
{"data":{"name":"dash"},"mark":{"type":"line","strokeDash":[3,2],"color":"#9b8b16","strokeWidth":1.3},
"encoding":{"y":{"field":"y","type":"quantitative","title":"Maximum Power density (mW/m²)"},"detail":{"field":"k"},"order":{"field":"o","type":"quantitative"}}},
{"data":{"name":"pct"},"mark":{"type":"text","fontSize":7.5,"dx":4},
"encoding":{"y":{"field":"y","type":"quantitative","title":"Maximum Power density (mW/m²)"},"text":{"field":"txt"}}},
{"data":{"values":[{"g":"Control","c":"1st cycle","y":42,"lab":"b"}]},"mark":{"type":"text","fontSize":13,"dx":-3},
"encoding":{"y":{"field":"y","type":"quantitative","title":"Maximum Power density (mW/m²)"},"text":{"field":"lab"}}}
]}
]},
{"spacing":18.6,
"resolve":{"scale":{"color":"independent","shape":"independent"},"legend":{"color":"independent","shape":"independent"}},
"vconcat":[
{"spacing":4.5,
"resolve":{"scale":{"color":"independent","shape":"independent"},"legend":{"color":"independent","shape":"independent"}},
"hconcat":[
{"width":256.6,"height":194.4,"view":{"stroke":null},
"layer":[
{"data":{"name":"cv"},"transform":[{"filter":"datum.p=='c1'"}],"mark":{"type":"line","strokeWidth":1.4,"interpolate":"cardinal","clip":true},
"encoding":{
"x":{"field":"v","type":"quantitative","scale":{"domain":[-0.9776,0.9],"nice":false,"zero":false},"axis":{"title":"Potential (V) vs.Ag/AgCl","domain":false,"values":[-0.9,-0.6,-0.3,0,0.3,0.6,0.9],"tickCount":100,"format":".1f","labelExpr":"replace(datum.label,'\u2212','-')","labelPadding":2.25,"titlePadding":6,"titleX":133.3}},
"y":{"field":"i","type":"quantitative","scale":{"domain":[-0.012,0.008],"nice":false,"zero":false},"axis":{"title":"Current (mA)","offset":-10.6,"values":[-0.012,-0.008,-0.004,0,0.004,0.008],"tickCount":100,"format":".3f","labelExpr":"replace(datum.label,'\u2212','-')","labelPadding":2.6,"titleX":-40.8,"titleBaseline":"middle"}},
"color":{"field":"s","type":"nominal","scale":{"domain":["Control","Fe","S","Fe+S"],"range":["#000000","#ff0000","#008000","#0000ff"]},"legend":{"title":null,"orient":"none","legendX":200.3,"legendY":141.7,"symbolType":"M-2,0L2,0","symbolSize":100,"symbolStrokeWidth":1.8,"labelFontSize":10,"labelOffset":9,"rowPadding":1.7}},
"order":{"value":null}}},
{"data":{"values":[{}]},"mark":{"type":"rule","color":"black","strokeWidth":1},"encoding":{"x":{"datum":-0.9},"y":{"datum":-0.012},"y2":{"datum":0.008}}},
{"data":{"values":[{}]},"mark":{"type":"rule","color":"black","strokeWidth":1},"encoding":{"x":{"datum":0.9},"y":{"datum":-0.012},"y2":{"datum":0.008}}},
{"data":{"values":[{}]},"mark":{"type":"rule","color":"black","strokeWidth":1},"encoding":{"x":{"datum":-0.9},"x2":{"datum":0.9},"y":{"datum":0.008}}},
{"data":{"values":[{}]},"mark":{"type":"rule","color":"black","strokeWidth":1},"encoding":{"x":{"datum":-0.9},"x2":{"datum":0.9},"y":{"datum":-0.012}}},
{"data":{"values":[{"v":-0.741,"i":0.00703,"lab":"c1"}]},"mark":{"type":"text","fontSize":13},
"encoding":{"x":{"field":"v","type":"quantitative"},"y":{"field":"i","type":"quantitative"},"text":{"field":"lab"}}}
]},
{"width":270.7,"height":190,
"layer":[
{"data":{"name":"eis"},"transform":[{"filter":"datum.p=='d1'"}],"mark":{"type":"point","filled":true,"size":16,"opacity":1},
"encoding":{
"x":{"field":"x","type":"quantitative","scale":{"domain":[0,30],"nice":false},"axis":{"title":"Z' (ohm)","values":[0,5,10,15,20,25,30],"tickCount":100,"format":"d","labelPadding":1.5,"titlePadding":3.5}},
"y":{"field":"y","type":"quantitative","scale":{"domain":[0,7],"nice":false},"axis":{"title":"-Z'' (ohm)","values":[0,1,2,3,4,5,6,7],"tickCount":100,"format":"d","labelPadding":3,"titleX":-16,"titleBaseline":"middle"}},
"color":{"field":"s","type":"nominal","scale":{"domain":["Control","Fe","S","Fe+S"],"range":["#000000","#ff0000","#1f8f1f","#0000ff"]},"legend":{"title":null,"orient":"none","legendX":214.7,"legendY":6.5,"labelFontSize":9,"rowPadding":0.5,"labelOffset":6,"symbolSize":16}},
"shape":{"field":"s","type":"nominal","scale":{"domain":["Control","Fe","S","Fe+S"],"range":["square","circle","triangle-up","triangle-down"]},"legend":{"title":null,"orient":"none","legendX":214.7,"legendY":6.5,"labelFontSize":9,"rowPadding":0.5,"labelOffset":6,"symbolSize":16}}}},
{"data":{"values":[{"x":1.85,"y":6.47,"lab":"d1"}]},"mark":{"type":"text","fontSize":13},
"encoding":{"x":{"field":"x","type":"quantitative"},"y":{"field":"y","type":"quantitative"},"text":{"field":"lab"}}}
]}
]},
{"spacing":4.5,
"resolve":{"scale":{"color":"independent","shape":"independent"},"legend":{"color":"independent","shape":"independent"}},
"hconcat":[
{"width":256.6,"height":194.4,"view":{"stroke":null},
"layer":[
{"data":{"name":"cv"},"transform":[{"filter":"datum.p=='c2'"}],"mark":{"type":"line","strokeWidth":1.4,"interpolate":"cardinal","clip":true},
"encoding":{
"x":{"field":"v","type":"quantitative","scale":{"domain":[-0.9776,0.9],"nice":false,"zero":false},"axis":{"title":"Potential (V) vs.Ag/AgCl","domain":false,"values":[-0.9,-0.6,-0.3,0,0.3,0.6,0.9],"tickCount":100,"format":".1f","labelExpr":"replace(datum.label,'\u2212','-')","labelPadding":2.25,"titlePadding":6,"titleX":133.3}},
"y":{"field":"i","type":"quantitative","scale":{"domain":[-0.012,0.008],"nice":false,"zero":false},"axis":{"title":"Current (mA)","offset":-10.6,"values":[-0.012,-0.008,-0.004,0,0.004,0.008],"tickCount":100,"format":".3f","labelExpr":"replace(datum.label,'\u2212','-')","labelPadding":2.6,"titleX":-40.8,"titleBaseline":"middle"}},
"color":{"field":"s","type":"nominal","scale":{"domain":["Control","Fe","S","Fe+S"],"range":["#000000","#ff0000","#008000","#0000ff"]},"legend":{"title":null,"orient":"none","legendX":200.3,"legendY":141.7,"symbolType":"M-2,0L2,0","symbolSize":100,"symbolStrokeWidth":1.8,"labelFontSize":10,"labelOffset":9,"rowPadding":1.7}},
"order":{"value":null}}},
{"data":{"values":[{}]},"mark":{"type":"rule","color":"black","strokeWidth":1},"encoding":{"x":{"datum":-0.9},"y":{"datum":-0.012},"y2":{"datum":0.008}}},
{"data":{"values":[{}]},"mark":{"type":"rule","color":"black","strokeWidth":1},"encoding":{"x":{"datum":0.9},"y":{"datum":-0.012},"y2":{"datum":0.008}}},
{"data":{"values":[{}]},"mark":{"type":"rule","color":"black","strokeWidth":1},"encoding":{"x":{"datum":-0.9},"x2":{"datum":0.9},"y":{"datum":0.008}}},
{"data":{"values":[{}]},"mark":{"type":"rule","color":"black","strokeWidth":1},"encoding":{"x":{"datum":-0.9},"x2":{"datum":0.9},"y":{"datum":-0.012}}},
{"data":{"values":[{"v":-0.741,"i":0.0062,"lab":"c2"}]},"mark":{"type":"text","fontSize":13},
"encoding":{"x":{"field":"v","type":"quantitative"},"y":{"field":"i","type":"quantitative"},"text":{"field":"lab"}}}
]},
{"width":270.7,"height":190,
"layer":[
{"data":{"name":"eis"},"transform":[{"filter":"datum.p=='d2'"}],"mark":{"type":"point","filled":true,"size":16,"opacity":1},
"encoding":{
"x":{"field":"x","type":"quantitative","scale":{"domain":[0,30],"nice":false},"axis":{"title":"Z' (ohm)","values":[0,5,10,15,20,25,30],"tickCount":100,"format":"d","labelPadding":1.5,"titlePadding":3.5}},
"y":{"field":"y","type":"quantitative","scale":{"domain":[0,7],"nice":false},"axis":{"title":"-Z'' (ohm)","values":[0,1,2,3,4,5,6,7],"tickCount":100,"format":"d","labelPadding":3,"titleX":-16,"titleBaseline":"middle"}},
"color":{"field":"s","type":"nominal","scale":{"domain":["Control","Fe","S","Fe+S"],"range":["#000000","#ff0000","#1f8f1f","#0000ff"]},"legend":{"title":null,"orient":"none","legendX":214.7,"legendY":6.5,"labelFontSize":9,"rowPadding":0.5,"labelOffset":6,"symbolSize":16}},
"shape":{"field":"s","type":"nominal","scale":{"domain":["Control","Fe","S","Fe+S"],"range":["square","circle","triangle-up","triangle-down"]},"legend":{"title":null,"orient":"none","legendX":214.7,"legendY":6.5,"labelFontSize":9,"rowPadding":0.5,"labelOffset":6,"symbolSize":16}}}},
{"data":{"values":[{"x":1.9,"y":6.45,"lab":"d2"}]},"mark":{"type":"text","fontSize":13},
"encoding":{"x":{"field":"x","type":"quantitative"},"y":{"field":"y","type":"quantitative"},"text":{"field":"lab"}}}
]}
]},
{"spacing":4.5,
"resolve":{"scale":{"color":"independent","shape":"independent"},"legend":{"color":"independent","shape":"independent"}},
"hconcat":[
{"width":256.6,"height":194.4,"view":{"stroke":null},
"layer":[
{"data":{"name":"cv"},"transform":[{"filter":"datum.p=='c3'"}],"mark":{"type":"line","strokeWidth":1.4,"interpolate":"cardinal","clip":true},
"encoding":{
"x":{"field":"v","type":"quantitative","scale":{"domain":[-0.9776,0.9],"nice":false,"zero":false},"axis":{"title":"Potential (V) vs.Ag/AgCl","domain":false,"values":[-0.9,-0.6,-0.3,0,0.3,0.6,0.9],"tickCount":100,"format":".1f","labelExpr":"replace(datum.label,'\u2212','-')","labelPadding":2.25,"titlePadding":6,"titleX":133.3}},
"y":{"field":"i","type":"quantitative","scale":{"domain":[-0.012,0.008],"nice":false,"zero":false},"axis":{"title":"Current (mA)","offset":-10.6,"values":[-0.012,-0.008,-0.004,0,0.004,0.008],"tickCount":100,"format":".3f","labelExpr":"replace(datum.label,'\u2212','-')","labelPadding":2.6,"titleX":-40.8,"titleBaseline":"middle"}},
"color":{"field":"s","type":"nominal","scale":{"domain":["Control","Fe","S","Fe+S"],"range":["#000000","#ff0000","#008000","#0000ff"]},"legend":{"title":null,"orient":"none","legendX":200.3,"legendY":141.7,"symbolType":"M-2,0L2,0","symbolSize":100,"symbolStrokeWidth":1.8,"labelFontSize":10,"labelOffset":9,"rowPadding":1.7}},
"order":{"value":null}}},
{"data":{"values":[{}]},"mark":{"type":"rule","color":"black","strokeWidth":1},"encoding":{"x":{"datum":-0.9},"y":{"datum":-0.012},"y2":{"datum":0.008}}},
{"data":{"values":[{}]},"mark":{"type":"rule","color":"black","strokeWidth":1},"encoding":{"x":{"datum":0.9},"y":{"datum":-0.012},"y2":{"datum":0.008}}},
{"data":{"values":[{}]},"mark":{"type":"rule","color":"black","strokeWidth":1},"encoding":{"x":{"datum":-0.9},"x2":{"datum":0.9},"y":{"datum":0.008}}},
{"data":{"values":[{}]},"mark":{"type":"rule","color":"black","strokeWidth":1},"encoding":{"x":{"datum":-0.9},"x2":{"datum":0.9},"y":{"datum":-0.012}}},
{"data":{"values":[{"v":-0.741,"i":0.00605,"lab":"c3"}]},"mark":{"type":"text","fontSize":13},
"encoding":{"x":{"field":"v","type":"quantitative"},"y":{"field":"i","type":"quantitative"},"text":{"field":"lab"}}}
]},
{"width":270.7,"height":190,
"layer":[
{"data":{"name":"eis"},"transform":[{"filter":"datum.p=='d3'"}],"mark":{"type":"point","filled":true,"size":16,"opacity":1},
"encoding":{
"x":{"field":"x","type":"quantitative","scale":{"domain":[0,30],"nice":false},"axis":{"title":"Z' (ohm)","values":[0,5,10,15,20,25,30],"tickCount":100,"format":"d","labelPadding":1.5,"titlePadding":3.5}},
"y":{"field":"y","type":"quantitative","scale":{"domain":[0,7],"nice":false},"axis":{"title":"-Z'' (ohm)","values":[0,1,2,3,4,5,6,7],"tickCount":100,"format":"d","labelPadding":3,"titleX":-16,"titleBaseline":"middle"}},
"color":{"field":"s","type":"nominal","scale":{"domain":["Control","Fe","S","Fe+S"],"range":["#000000","#ff0000","#1f8f1f","#0000ff"]},"legend":{"title":null,"orient":"none","legendX":214.7,"legendY":6.5,"labelFontSize":9,"rowPadding":0.5,"labelOffset":6,"symbolSize":16}},
"shape":{"field":"s","type":"nominal","scale":{"domain":["Control","Fe","S","Fe+S"],"range":["square","circle","triangle-up","triangle-down"]},"legend":{"title":null,"orient":"none","legendX":214.7,"legendY":6.5,"labelFontSize":9,"rowPadding":0.5,"labelOffset":6,"symbolSize":16}}}},
{"data":{"values":[{"x":2.36,"y":6.4,"lab":"d3"}]},"mark":{"type":"text","fontSize":13},
"encoding":{"x":{"field":"x","type":"quantitative"},"y":{"field":"y","type":"quantitative"},"text":{"field":"lab"}}}
]}
]}
]}
]
}
